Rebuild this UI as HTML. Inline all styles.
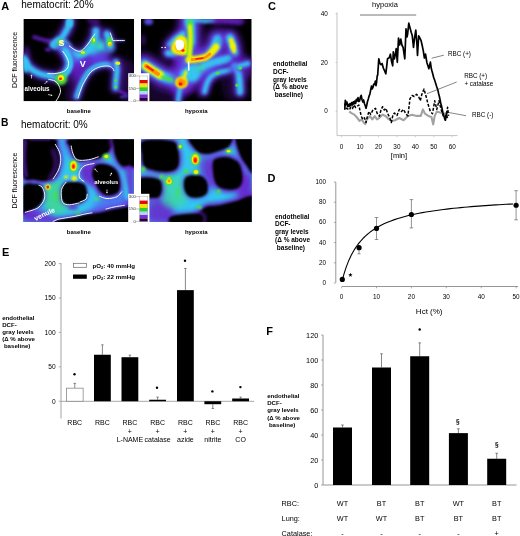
<!DOCTYPE html>
<html><head><meta charset="utf-8"><style>
html,body{margin:0;padding:0;background:#fff;width:520px;height:536px;overflow:hidden;}
svg{display:block;will-change:transform;font-family:"Liberation Sans",sans-serif;}
</style></head><body>
<svg width="520" height="536" viewBox="0 0 520 536" font-family="Liberation Sans, sans-serif"><text x="1.20" y="9.50" font-size="11" font-weight="bold" fill="#000" >A</text>
<text x="21.30" y="7.60" font-size="10" fill="#000" >hematocrit: 20%</text>
<text x="1.00" y="126.30" font-size="10.3" font-weight="bold" fill="#000" >B</text>
<text x="21.00" y="127.90" font-size="10" fill="#000" >hematocrit: 0%</text>
<text x="268.00" y="10.00" font-size="11" font-weight="bold" fill="#000" >C</text>
<text x="267.50" y="182.00" font-size="11" font-weight="bold" fill="#000" >D</text>
<text x="2.00" y="255.50" font-size="11" font-weight="bold" fill="#000" >E</text>
<text x="266.30" y="335.00" font-size="11" font-weight="bold" fill="#000" >F</text>
<text transform="translate(17.3,59.9) rotate(-90)" font-size="7" text-anchor="middle" fill="#000">DCF fluorescence</text>
<text transform="translate(17.3,180.5) rotate(-90)" font-size="7" text-anchor="middle" fill="#000">DCF fluorescence</text>
<text x="78.80" y="112.60" font-size="6" font-weight="bold" text-anchor="middle" fill="#000" >baseline</text>
<text x="196.30" y="112.60" font-size="6" font-weight="bold" text-anchor="middle" fill="#000" >hypoxia</text>
<text x="78.80" y="233.50" font-size="6" font-weight="bold" text-anchor="middle" fill="#000" >baseline</text>
<text x="196.30" y="233.50" font-size="6" font-weight="bold" text-anchor="middle" fill="#000" >hypoxia</text>
<clipPath id="clip_a1"><rect x="23.4" y="19" width="110.60" height="82.30"/></clipPath>
<g clip-path="url(#clip_a1)">
<rect x="23.40" y="19.00" width="110.60" height="82.30" fill="#000" />
<defs>
<filter id="b05" filterUnits="userSpaceOnUse" x="0" y="0" width="520" height="536"><feGaussianBlur stdDeviation="0.5"/></filter>
<filter id="b1" filterUnits="userSpaceOnUse" x="0" y="0" width="520" height="536"><feGaussianBlur stdDeviation="1"/></filter>
<filter id="b15" filterUnits="userSpaceOnUse" x="0" y="0" width="520" height="536"><feGaussianBlur stdDeviation="1.5"/></filter>
<filter id="b2" filterUnits="userSpaceOnUse" x="0" y="0" width="520" height="536"><feGaussianBlur stdDeviation="2"/></filter>
<filter id="b3" filterUnits="userSpaceOnUse" x="0" y="0" width="520" height="536"><feGaussianBlur stdDeviation="3"/></filter>
<filter id="b4" filterUnits="userSpaceOnUse" x="0" y="0" width="520" height="536"><feGaussianBlur stdDeviation="4"/></filter>
</defs><path d="M68.00,54.00 C69.67,51.67 75.33,56.67 80.00,56.00 C84.67,55.33 91.00,50.33 96.00,50.00 C101.00,49.67 107.67,52.00 110.00,54.00 C112.33,56.00 111.67,60.33 110.00,62.00 C108.33,63.67 103.67,62.67 100.00,64.00 C96.33,65.33 91.33,67.00 88.00,70.00 C84.67,73.00 82.67,79.67 80.00,82.00 C77.33,84.33 73.67,86.00 72.00,84.00 C70.33,82.00 70.67,75.00 70.00,70.00 C69.33,65.00 66.33,56.33 68.00,54.00Z" fill="#6a22cc" filter="url(#b3)" opacity="0.9"/>
<path d="M118.00,60.00 C119.33,54.67 125.33,59.00 128.00,60.00 C130.67,61.00 133.00,59.17 134.00,66.00 C135.00,72.83 136.00,95.17 134.00,101.00 C132.00,106.83 124.33,102.50 122.00,101.00 C119.67,99.50 120.67,98.83 120.00,92.00 C119.33,85.17 116.67,65.33 118.00,60.00Z" fill="#2e0a5c" filter="url(#b3)" opacity="0.7"/>
<path d="M70.00,76.00 C72.00,75.00 76.67,77.83 78.00,82.00 C79.33,86.17 80.00,97.83 78.00,101.00 C76.00,104.17 68.00,103.17 66.00,101.00 C64.00,98.83 65.33,92.17 66.00,88.00 C66.67,83.83 68.00,77.00 70.00,76.00Z" fill="#2e0a5c" filter="url(#b3)" opacity="0.6"/>
<path d="M34.00,37.00 C35.67,37.50 40.67,39.17 44.00,40.00 C47.33,40.83 52.33,41.67 54.00,42.00" fill="none" stroke="#6a22cc" stroke-width="3.5" stroke-linecap="round" stroke-linejoin="round" filter="url(#b15)" opacity="0.9"/>
<ellipse cx="47.8" cy="49.7" rx="3" ry="1.6" fill="#6a22cc" filter="url(#b1)" opacity="0.8"/>
<path d="M26.00,48.00 C26.33,49.00 27.67,53.00 28.00,54.00" fill="none" stroke="#6a22cc" stroke-width="4" stroke-linecap="round" stroke-linejoin="round" filter="url(#b2)" opacity="0.6"/>
<path d="M89.00,20.00 C90.00,20.33 93.50,21.83 95.00,22.00 C96.50,22.17 97.50,21.17 98.00,21.00" fill="none" stroke="#6a22cc" stroke-width="4" stroke-linecap="round" stroke-linejoin="round" filter="url(#b2)" opacity="0.7"/>
<path d="M119.00,91.00 C120.17,91.50 124.83,93.50 126.00,94.00" fill="none" stroke="#6a22cc" stroke-width="2.5" stroke-linecap="round" stroke-linejoin="round" filter="url(#b1)" opacity="0.9"/>
<path d="M121.00,97.00 C122.00,96.83 126.00,96.17 127.00,96.00" fill="none" stroke="#5c50f0" stroke-width="2" stroke-linecap="round" stroke-linejoin="round" filter="url(#b1)" opacity="0.8"/>
<path d="M88.00,54.00 C89.33,51.67 96.67,50.00 100.00,50.00 C103.33,50.00 107.33,52.00 108.00,54.00 C108.67,56.00 106.67,60.33 104.00,62.00 C101.33,63.67 94.67,65.33 92.00,64.00 C89.33,62.67 86.67,56.33 88.00,54.00Z" fill="#5c50f0" filter="url(#b3)" opacity="0.8"/>
<path d="M72.00,54.00 C74.00,53.17 81.67,55.67 84.00,57.00 C86.33,58.33 87.00,60.50 86.00,62.00 C85.00,63.50 80.33,66.00 78.00,66.00 C75.67,66.00 73.00,64.00 72.00,62.00 C71.00,60.00 70.00,54.83 72.00,54.00Z" fill="#5c50f0" filter="url(#b3)" opacity="0.7"/>
<path d="M70.00,19.00 C69.83,20.00 69.83,22.67 69.00,25.00 C68.17,27.33 66.50,30.50 65.00,33.00 C63.50,35.50 61.83,38.00 60.00,40.00 C58.17,42.00 55.00,44.17 54.00,45.00" fill="none" stroke="#6a22cc" stroke-width="13.440000000000001" stroke-linecap="round" stroke-linejoin="round" filter="url(#b3)" opacity="0.45"/>
<path d="M70.00,19.00 C69.83,20.00 69.83,22.67 69.00,25.00 C68.17,27.33 66.50,30.50 65.00,33.00 C63.50,35.50 61.83,38.00 60.00,40.00 C58.17,42.00 55.00,44.17 54.00,45.00" fill="none" stroke="#5c50f0" stroke-width="8.4" stroke-linecap="round" stroke-linejoin="round" filter="url(#b2)" opacity="0.85"/>
<path d="M70.00,19.00 C69.83,20.00 69.83,22.67 69.00,25.00 C68.17,27.33 66.50,30.50 65.00,33.00 C63.50,35.50 61.83,38.00 60.00,40.00 C58.17,42.00 55.00,44.17 54.00,45.00" fill="none" stroke="#34c4f0" stroke-width="5.25" stroke-linecap="round" stroke-linejoin="round" filter="url(#b15)"/>
<ellipse cx="69.5" cy="23" rx="3.5" ry="4.5" fill="#34c4f0" filter="url(#b1)"/>
<path d="M50.00,45.00 C50.33,43.00 55.00,37.67 58.00,37.00 C61.00,36.33 65.67,39.17 68.00,41.00 C70.33,42.83 72.67,46.50 72.00,48.00 C71.33,49.50 66.67,49.83 64.00,50.00 C61.33,50.17 58.33,49.83 56.00,49.00 C53.67,48.17 49.67,47.00 50.00,45.00Z" fill="#34c4f0" filter="url(#b15)"/>
<path d="M64.00,47.00 C64.83,45.67 69.50,47.00 72.00,48.00 C74.50,49.00 77.67,51.00 79.00,53.00 C80.33,55.00 81.17,58.67 80.00,60.00 C78.83,61.33 74.17,61.67 72.00,61.00 C69.83,60.33 68.33,58.33 67.00,56.00 C65.67,53.67 63.17,48.33 64.00,47.00Z" fill="#34c4f0" filter="url(#b15)"/>
<path d="M64.00,49.00 C65.00,49.58 67.67,51.50 70.00,52.50 C72.33,53.50 75.50,54.92 78.00,55.00 C80.50,55.08 82.83,54.50 85.00,53.00 C87.17,51.50 89.25,48.67 91.00,46.00 C92.75,43.33 94.67,39.50 95.50,37.00 C96.33,34.50 95.92,32.00 96.00,31.00" fill="none" stroke="#6a22cc" stroke-width="16.0" stroke-linecap="round" stroke-linejoin="round" filter="url(#b3)" opacity="0.405"/>
<path d="M64.00,49.00 C65.00,49.58 67.67,51.50 70.00,52.50 C72.33,53.50 75.50,54.92 78.00,55.00 C80.50,55.08 82.83,54.50 85.00,53.00 C87.17,51.50 89.25,48.67 91.00,46.00 C92.75,43.33 94.67,39.50 95.50,37.00 C96.33,34.50 95.92,32.00 96.00,31.00" fill="none" stroke="#5c50f0" stroke-width="10.0" stroke-linecap="round" stroke-linejoin="round" filter="url(#b2)" opacity="0.85"/>
<path d="M64.00,49.00 C65.00,49.58 67.67,51.50 70.00,52.50 C72.33,53.50 75.50,54.92 78.00,55.00 C80.50,55.08 82.83,54.50 85.00,53.00 C87.17,51.50 89.25,48.67 91.00,46.00 C92.75,43.33 94.67,39.50 95.50,37.00 C96.33,34.50 95.92,32.00 96.00,31.00" fill="none" stroke="#34c4f0" stroke-width="6.25" stroke-linecap="round" stroke-linejoin="round" filter="url(#b15)"/>
<path d="M86.00,50.00 C86.33,47.50 91.83,42.00 94.00,40.00 C96.17,38.00 96.67,38.00 99.00,38.00 C101.33,38.00 105.50,38.67 108.00,40.00 C110.50,41.33 113.33,44.00 114.00,46.00 C114.67,48.00 114.33,51.00 112.00,52.00 C109.67,53.00 103.33,51.50 100.00,52.00 C96.67,52.50 94.33,55.33 92.00,55.00 C89.67,54.67 85.67,52.50 86.00,50.00Z" fill="#34c4f0" filter="url(#b2)" opacity="0.9"/>
<path d="M24.00,58.00 C24.67,59.33 26.33,63.83 28.00,66.00 C29.67,68.17 31.67,69.58 34.00,71.00 C36.33,72.42 39.33,73.67 42.00,74.50 C44.67,75.33 47.33,75.50 50.00,76.00 C52.67,76.50 56.67,77.25 58.00,77.50" fill="none" stroke="#6a22cc" stroke-width="13.76" stroke-linecap="round" stroke-linejoin="round" filter="url(#b3)" opacity="0.36000000000000004"/>
<path d="M24.00,58.00 C24.67,59.33 26.33,63.83 28.00,66.00 C29.67,68.17 31.67,69.58 34.00,71.00 C36.33,72.42 39.33,73.67 42.00,74.50 C44.67,75.33 47.33,75.50 50.00,76.00 C52.67,76.50 56.67,77.25 58.00,77.50" fill="none" stroke="#5c50f0" stroke-width="8.6" stroke-linecap="round" stroke-linejoin="round" filter="url(#b2)" opacity="0.85"/>
<path d="M24.00,58.00 C24.67,59.33 26.33,63.83 28.00,66.00 C29.67,68.17 31.67,69.58 34.00,71.00 C36.33,72.42 39.33,73.67 42.00,74.50 C44.67,75.33 47.33,75.50 50.00,76.00 C52.67,76.50 56.67,77.25 58.00,77.50" fill="none" stroke="#34c4f0" stroke-width="5.375" stroke-linecap="round" stroke-linejoin="round" filter="url(#b15)"/>
<ellipse cx="26" cy="66" rx="3" ry="7" fill="#34c4f0" filter="url(#b15)"/>
<path d="M65.00,50.00 C65.50,51.33 67.33,55.67 68.00,58.00 C68.67,60.33 69.17,62.00 69.00,64.00 C68.83,66.00 68.17,68.00 67.00,70.00 C65.83,72.00 62.83,75.00 62.00,76.00" fill="none" stroke="#6a22cc" stroke-width="14.4" stroke-linecap="round" stroke-linejoin="round" filter="url(#b3)" opacity="0.36000000000000004"/>
<path d="M65.00,50.00 C65.50,51.33 67.33,55.67 68.00,58.00 C68.67,60.33 69.17,62.00 69.00,64.00 C68.83,66.00 68.17,68.00 67.00,70.00 C65.83,72.00 62.83,75.00 62.00,76.00" fill="none" stroke="#5c50f0" stroke-width="9.0" stroke-linecap="round" stroke-linejoin="round" filter="url(#b2)" opacity="0.85"/>
<path d="M65.00,50.00 C65.50,51.33 67.33,55.67 68.00,58.00 C68.67,60.33 69.17,62.00 69.00,64.00 C68.83,66.00 68.17,68.00 67.00,70.00 C65.83,72.00 62.83,75.00 62.00,76.00" fill="none" stroke="#34c4f0" stroke-width="5.625" stroke-linecap="round" stroke-linejoin="round" filter="url(#b15)"/>
<path d="M67.00,52.00 C67.50,53.00 69.33,56.00 70.00,58.00 C70.67,60.00 71.17,62.00 71.00,64.00 C70.83,66.00 70.00,68.17 69.00,70.00 C68.00,71.83 65.67,74.17 65.00,75.00" fill="none" stroke="#34c4f0" stroke-width="4" stroke-linecap="round" stroke-linejoin="round" filter="url(#b1)"/>
<path d="M76.50,97.00 C77.00,95.50 78.42,90.83 79.50,88.00 C80.58,85.17 81.42,82.83 83.00,80.00 C84.58,77.17 86.58,73.42 89.00,71.00 C91.42,68.58 94.58,66.67 97.50,65.50 C100.42,64.33 104.08,64.00 106.50,64.00 C108.92,64.00 111.08,65.25 112.00,65.50" fill="none" stroke="#6a22cc" stroke-width="10.240000000000002" stroke-linecap="round" stroke-linejoin="round" filter="url(#b3)" opacity="0.45"/>
<path d="M76.50,97.00 C77.00,95.50 78.42,90.83 79.50,88.00 C80.58,85.17 81.42,82.83 83.00,80.00 C84.58,77.17 86.58,73.42 89.00,71.00 C91.42,68.58 94.58,66.67 97.50,65.50 C100.42,64.33 104.08,64.00 106.50,64.00 C108.92,64.00 111.08,65.25 112.00,65.50" fill="none" stroke="#5c50f0" stroke-width="6.4" stroke-linecap="round" stroke-linejoin="round" filter="url(#b2)" opacity="0.85"/>
<path d="M76.50,97.00 C77.00,95.50 78.42,90.83 79.50,88.00 C80.58,85.17 81.42,82.83 83.00,80.00 C84.58,77.17 86.58,73.42 89.00,71.00 C91.42,68.58 94.58,66.67 97.50,65.50 C100.42,64.33 104.08,64.00 106.50,64.00 C108.92,64.00 111.08,65.25 112.00,65.50" fill="none" stroke="#34c4f0" stroke-width="4.0" stroke-linecap="round" stroke-linejoin="round" filter="url(#b15)"/>
<path d="M116.00,62.00 C116.17,63.33 117.00,67.00 117.00,70.00 C117.00,73.00 116.25,77.00 116.00,80.00 C115.75,83.00 115.58,86.67 115.50,88.00" fill="none" stroke="#6a22cc" stroke-width="12.16" stroke-linecap="round" stroke-linejoin="round" filter="url(#b3)" opacity="0.45"/>
<path d="M116.00,62.00 C116.17,63.33 117.00,67.00 117.00,70.00 C117.00,73.00 116.25,77.00 116.00,80.00 C115.75,83.00 115.58,86.67 115.50,88.00" fill="none" stroke="#5c50f0" stroke-width="7.6" stroke-linecap="round" stroke-linejoin="round" filter="url(#b2)" opacity="0.85"/>
<path d="M116.00,62.00 C116.17,63.33 117.00,67.00 117.00,70.00 C117.00,73.00 116.25,77.00 116.00,80.00 C115.75,83.00 115.58,86.67 115.50,88.00" fill="none" stroke="#34c4f0" stroke-width="4.75" stroke-linecap="round" stroke-linejoin="round" filter="url(#b15)"/>
<path d="M107.00,34.00 C107.33,35.00 108.50,38.00 109.00,40.00 C109.50,42.00 109.83,45.00 110.00,46.00" fill="none" stroke="#6a22cc" stroke-width="14.4" stroke-linecap="round" stroke-linejoin="round" filter="url(#b3)" opacity="0.36000000000000004"/>
<path d="M107.00,34.00 C107.33,35.00 108.50,38.00 109.00,40.00 C109.50,42.00 109.83,45.00 110.00,46.00" fill="none" stroke="#5c50f0" stroke-width="9.0" stroke-linecap="round" stroke-linejoin="round" filter="url(#b2)" opacity="0.85"/>
<path d="M107.00,34.00 C107.33,35.00 108.50,38.00 109.00,40.00 C109.50,42.00 109.83,45.00 110.00,46.00" fill="none" stroke="#34c4f0" stroke-width="5.625" stroke-linecap="round" stroke-linejoin="round" filter="url(#b15)"/>
<path d="M114.00,40.50 C115.67,40.50 122.33,40.50 124.00,40.50" fill="none" stroke="#5c50f0" stroke-width="2.5" stroke-linecap="round" stroke-linejoin="round" filter="url(#b1)" opacity="0.7"/>
<ellipse cx="60.5" cy="42.5" rx="3.5" ry="3" fill="#48e040" filter="url(#b1)"/>
<ellipse cx="61" cy="42.5" rx="2" ry="1.8" fill="#f4f000" filter="url(#b05)"/>
<ellipse cx="83" cy="52.5" rx="3" ry="2" fill="#48e040" filter="url(#b1)"/>
<ellipse cx="83" cy="52.5" rx="1.9" ry="1.3" fill="#f4f000" filter="url(#b05)"/>
<ellipse cx="93.5" cy="41" rx="2.2" ry="4.2" fill="#48e040" filter="url(#b1)"/>
<ellipse cx="94" cy="40" rx="1.1" ry="2.1" fill="#f4f000" filter="url(#b05)"/>
<ellipse cx="61" cy="79" rx="6" ry="6" fill="#48e040" filter="url(#b15)"/>
<ellipse cx="61" cy="78" rx="3" ry="3" fill="#f4f000" filter="url(#b05)"/>
<ellipse cx="60.5" cy="78.8" rx="1.5" ry="1.4" fill="#ff1800" filter="url(#b05)"/>
<ellipse cx="109.8" cy="42" rx="3" ry="4.8" fill="#48e040" filter="url(#b1)"/>
<ellipse cx="109.8" cy="44" rx="1.8" ry="2.3" fill="#f4f000" filter="url(#b05)"/>
<ellipse cx="110" cy="44.8" rx="0.9" ry="0.9" fill="#ff9000" filter="url(#b05)"/>
<ellipse cx="117.8" cy="63.2" rx="2.6" ry="1.8" fill="#f4f000" filter="url(#b05)"/>
<ellipse cx="115.7" cy="80.5" rx="1.5" ry="1.5" fill="#48e040" filter="url(#b05)"/>
<ellipse cx="115.7" cy="87" rx="1.5" ry="1.5" fill="#48e040" filter="url(#b05)"/>
<ellipse cx="100" cy="46" rx="4" ry="3" fill="#3cd8b0" filter="url(#b15)" opacity="0.8"/>
<path d="M69.30,46.00 C70.25,46.67 73.38,49.12 75.00,50.00 C76.62,50.88 77.78,51.27 79.00,51.30 C80.22,51.33 80.80,51.42 82.30,50.20 C83.80,48.98 85.93,46.70 88.00,44.00 C90.07,41.30 93.58,35.67 94.70,34.00" fill="none" stroke="#fff" stroke-width="1" stroke-linecap="round" opacity="0.95"/>
<path d="M62.80,51.30 C63.33,52.08 65.05,54.22 66.00,56.00 C66.95,57.78 68.25,60.00 68.50,62.00 C68.75,64.00 68.33,66.42 67.50,68.00 C66.67,69.58 65.58,70.57 63.50,71.50 C61.42,72.43 57.62,73.25 55.00,73.60 C52.38,73.95 49.00,73.60 47.80,73.60" fill="none" stroke="#fff" stroke-width="1" stroke-linecap="round" opacity="0.95"/>
<path d="M48.80,79.40 C49.83,79.67 53.38,80.10 55.00,81.00 C56.62,81.90 57.58,83.13 58.50,84.80 C59.42,86.47 60.50,88.97 60.50,91.00 C60.50,93.03 59.37,95.17 58.50,97.00 C57.63,98.83 55.83,101.17 55.30,102.00" fill="none" stroke="#fff" stroke-width="1" stroke-linecap="round" opacity="0.95"/>
<path d="M78.00,98.00 C78.50,96.50 79.92,91.75 81.00,89.00 C82.08,86.25 82.83,84.37 84.50,81.50 C86.17,78.63 88.50,74.22 91.00,71.80 C93.50,69.38 96.63,67.97 99.50,67.00 C102.37,66.03 106.03,65.83 108.20,66.00 C110.37,66.17 111.53,67.20 112.50,68.00 C113.47,68.80 113.75,70.33 114.00,70.80" fill="none" stroke="#fff" stroke-width="1" stroke-linecap="round" opacity="0.95"/>
<path d="M110.30,33.00 C110.58,33.83 111.55,36.75 112.00,38.00 C112.45,39.25 112.00,40.08 113.00,40.50 C114.00,40.92 116.12,40.50 118.00,40.50 C119.88,40.50 123.25,40.50 124.30,40.50" fill="none" stroke="#fff" stroke-width="1" stroke-linecap="round" opacity="0.95"/>
<text x="61.5" y="45.9" font-size="8.8" font-weight="bold" fill="#fff" text-anchor="middle">S</text>
<text x="82.7" y="67.1" font-size="9" font-weight="bold" fill="#fff" text-anchor="middle">V</text>
<text x="37" y="91.4" font-size="6.3" font-weight="bold" fill="#fff" text-anchor="middle">alveolus</text>
<line x1="31.5" y1="78.5" x2="31.50" y2="76.10" stroke="#fff" stroke-width="0.7"/><path d="M31.5,74.5 L32.50,76.10 L30.50,76.10Z" fill="#fff"/>
<line x1="44.5" y1="84" x2="46.37" y2="82.13" stroke="#fff" stroke-width="0.7"/><path d="M47.5,81 L47.08,82.84 L45.66,81.42Z" fill="#fff"/>
<line x1="48" y1="94.5" x2="50.94" y2="95.15" stroke="#fff" stroke-width="0.7"/><path d="M52.5,95.5 L50.72,96.13 L51.16,94.18Z" fill="#fff"/>
</g>
<clipPath id="clip_a2"><rect x="141" y="19" width="110.70" height="82.30"/></clipPath>
<g clip-path="url(#clip_a2)">
<rect x="141.00" y="19.00" width="110.70" height="82.30" fill="#000" />
<defs>
<filter id="b05" filterUnits="userSpaceOnUse" x="0" y="0" width="520" height="536"><feGaussianBlur stdDeviation="0.5"/></filter>
<filter id="b1" filterUnits="userSpaceOnUse" x="0" y="0" width="520" height="536"><feGaussianBlur stdDeviation="1"/></filter>
<filter id="b15" filterUnits="userSpaceOnUse" x="0" y="0" width="520" height="536"><feGaussianBlur stdDeviation="1.5"/></filter>
<filter id="b2" filterUnits="userSpaceOnUse" x="0" y="0" width="520" height="536"><feGaussianBlur stdDeviation="2"/></filter>
<filter id="b3" filterUnits="userSpaceOnUse" x="0" y="0" width="520" height="536"><feGaussianBlur stdDeviation="3"/></filter>
<filter id="b4" filterUnits="userSpaceOnUse" x="0" y="0" width="520" height="536"><feGaussianBlur stdDeviation="4"/></filter>
</defs><ellipse cx="148.5" cy="21.5" rx="4.5" ry="3.5" fill="#5c50f0" filter="url(#b15)" opacity="0.95"/>
<ellipse cx="143" cy="40" rx="2" ry="6" fill="#6a22cc" filter="url(#b2)" opacity="0.6"/>
<path d="M150.00,86.00 C154.33,83.67 171.33,85.33 176.00,88.00 C180.67,90.67 182.33,99.67 178.00,102.00 C173.67,104.33 154.67,104.67 150.00,102.00 C145.33,99.33 145.67,88.33 150.00,86.00Z" fill="#2e0a5c" filter="url(#b3)" opacity="0.5"/>
<path d="M198.00,28.00 C200.00,25.00 209.33,25.33 212.00,28.00 C214.67,30.67 216.00,41.00 214.00,44.00 C212.00,47.00 202.67,48.67 200.00,46.00 C197.33,43.33 196.00,31.00 198.00,28.00Z" fill="#000" filter="url(#b3)" opacity="0.9"/>
<path d="M192.00,18.00 C199.67,17.17 232.00,17.17 240.00,18.00 C248.00,18.83 247.67,22.17 240.00,23.00 C232.33,23.83 202.00,23.83 194.00,23.00 C186.00,22.17 184.33,18.83 192.00,18.00Z" fill="#6a22cc" filter="url(#b2)" opacity="0.7"/>
<path d="M236.00,55.00 C237.33,52.00 249.33,56.67 252.00,60.00 C254.67,63.33 253.33,72.00 252.00,75.00 C250.67,78.00 246.67,81.33 244.00,78.00 C241.33,74.67 234.67,58.00 236.00,55.00Z" fill="#6a22cc" filter="url(#b3)" opacity="0.6"/>
<path d="M200.00,75.00 C202.33,71.33 211.00,71.50 212.00,74.00 C213.00,76.50 208.33,86.33 206.00,90.00 C203.67,93.67 199.00,98.50 198.00,96.00 C197.00,93.50 197.67,78.67 200.00,75.00Z" fill="#6a22cc" filter="url(#b3)" opacity="0.8"/>
<path d="M220.00,74.00 C221.00,69.33 229.33,68.33 232.00,72.00 C234.67,75.67 237.00,91.33 236.00,96.00 C235.00,100.67 228.67,103.67 226.00,100.00 C223.33,96.33 219.00,78.67 220.00,74.00Z" fill="#2e0a5c" filter="url(#b3)" opacity="0.5"/>
<path d="M189.50,18.00 C189.58,20.00 189.92,25.50 190.00,30.00 C190.08,34.50 190.17,40.50 190.00,45.00 C189.83,49.50 189.17,55.00 189.00,57.00" fill="none" stroke="#6a22cc" stroke-width="25.6" stroke-linecap="round" stroke-linejoin="round" filter="url(#b3)" opacity="0.63"/>
<path d="M189.50,18.00 C189.58,20.00 189.92,25.50 190.00,30.00 C190.08,34.50 190.17,40.50 190.00,45.00 C189.83,49.50 189.17,55.00 189.00,57.00" fill="none" stroke="#5c50f0" stroke-width="16.0" stroke-linecap="round" stroke-linejoin="round" filter="url(#b2)" opacity="0.85"/>
<path d="M189.50,18.00 C189.58,20.00 189.92,25.50 190.00,30.00 C190.08,34.50 190.17,40.50 190.00,45.00 C189.83,49.50 189.17,55.00 189.00,57.00" fill="none" stroke="#34c4f0" stroke-width="10.0" stroke-linecap="round" stroke-linejoin="round" filter="url(#b15)"/>
<path d="M170.00,45.00 C171.00,44.00 173.83,40.83 176.00,39.00 C178.17,37.17 181.83,34.83 183.00,34.00" fill="none" stroke="#6a22cc" stroke-width="14.4" stroke-linecap="round" stroke-linejoin="round" filter="url(#b3)" opacity="0.63"/>
<path d="M170.00,45.00 C171.00,44.00 173.83,40.83 176.00,39.00 C178.17,37.17 181.83,34.83 183.00,34.00" fill="none" stroke="#5c50f0" stroke-width="9.0" stroke-linecap="round" stroke-linejoin="round" filter="url(#b2)" opacity="0.85"/>
<path d="M170.00,45.00 C171.00,44.00 173.83,40.83 176.00,39.00 C178.17,37.17 181.83,34.83 183.00,34.00" fill="none" stroke="#34c4f0" stroke-width="5.625" stroke-linecap="round" stroke-linejoin="round" filter="url(#b15)"/>
<path d="M168.00,53.00 C169.50,53.17 174.00,53.67 177.00,54.00 C180.00,54.33 184.50,54.83 186.00,55.00" fill="none" stroke="#6a22cc" stroke-width="14.4" stroke-linecap="round" stroke-linejoin="round" filter="url(#b3)" opacity="0.63"/>
<path d="M168.00,53.00 C169.50,53.17 174.00,53.67 177.00,54.00 C180.00,54.33 184.50,54.83 186.00,55.00" fill="none" stroke="#5c50f0" stroke-width="9.0" stroke-linecap="round" stroke-linejoin="round" filter="url(#b2)" opacity="0.85"/>
<path d="M168.00,53.00 C169.50,53.17 174.00,53.67 177.00,54.00 C180.00,54.33 184.50,54.83 186.00,55.00" fill="none" stroke="#34c4f0" stroke-width="5.625" stroke-linecap="round" stroke-linejoin="round" filter="url(#b15)"/>
<path d="M188.00,58.00 C189.50,58.08 194.00,58.67 197.00,58.50 C200.00,58.33 203.50,58.08 206.00,57.00 C208.50,55.92 210.33,53.83 212.00,52.00 C213.67,50.17 215.00,48.00 216.00,46.00 C217.00,44.00 217.67,41.00 218.00,40.00" fill="none" stroke="#6a22cc" stroke-width="25.6" stroke-linecap="round" stroke-linejoin="round" filter="url(#b3)" opacity="0.63"/>
<path d="M188.00,58.00 C189.50,58.08 194.00,58.67 197.00,58.50 C200.00,58.33 203.50,58.08 206.00,57.00 C208.50,55.92 210.33,53.83 212.00,52.00 C213.67,50.17 215.00,48.00 216.00,46.00 C217.00,44.00 217.67,41.00 218.00,40.00" fill="none" stroke="#5c50f0" stroke-width="16.0" stroke-linecap="round" stroke-linejoin="round" filter="url(#b2)" opacity="0.85"/>
<path d="M188.00,58.00 C189.50,58.08 194.00,58.67 197.00,58.50 C200.00,58.33 203.50,58.08 206.00,57.00 C208.50,55.92 210.33,53.83 212.00,52.00 C213.67,50.17 215.00,48.00 216.00,46.00 C217.00,44.00 217.67,41.00 218.00,40.00" fill="none" stroke="#34c4f0" stroke-width="10.0" stroke-linecap="round" stroke-linejoin="round" filter="url(#b15)"/>
<path d="M230.00,38.00 C230.42,39.17 231.83,42.50 232.50,45.00 C233.17,47.50 233.75,51.67 234.00,53.00" fill="none" stroke="#6a22cc" stroke-width="19.200000000000003" stroke-linecap="round" stroke-linejoin="round" filter="url(#b3)" opacity="0.63"/>
<path d="M230.00,38.00 C230.42,39.17 231.83,42.50 232.50,45.00 C233.17,47.50 233.75,51.67 234.00,53.00" fill="none" stroke="#5c50f0" stroke-width="12.0" stroke-linecap="round" stroke-linejoin="round" filter="url(#b2)" opacity="0.85"/>
<path d="M230.00,38.00 C230.42,39.17 231.83,42.50 232.50,45.00 C233.17,47.50 233.75,51.67 234.00,53.00" fill="none" stroke="#34c4f0" stroke-width="7.5" stroke-linecap="round" stroke-linejoin="round" filter="url(#b15)"/>
<path d="M194.00,20.00 C196.00,20.17 202.67,21.00 206.00,21.00 C209.33,21.00 212.67,20.17 214.00,20.00" fill="none" stroke="#34c4f0" stroke-width="4" stroke-linecap="round" stroke-linejoin="round" filter="url(#b15)" opacity="0.9"/>
<path d="M214.00,20.00 C216.00,20.00 221.67,19.67 226.00,20.00 C230.33,20.33 237.67,21.67 240.00,22.00" fill="none" stroke="#6a22cc" stroke-width="5" stroke-linecap="round" stroke-linejoin="round" filter="url(#b2)" opacity="0.9"/>
<path d="M189.00,62.00 C188.50,63.67 187.17,68.67 186.00,72.00 C184.83,75.33 182.67,80.33 182.00,82.00" fill="none" stroke="#6a22cc" stroke-width="27.200000000000003" stroke-linecap="round" stroke-linejoin="round" filter="url(#b3)" opacity="0.63"/>
<path d="M189.00,62.00 C188.50,63.67 187.17,68.67 186.00,72.00 C184.83,75.33 182.67,80.33 182.00,82.00" fill="none" stroke="#5c50f0" stroke-width="17.0" stroke-linecap="round" stroke-linejoin="round" filter="url(#b2)" opacity="0.85"/>
<path d="M189.00,62.00 C188.50,63.67 187.17,68.67 186.00,72.00 C184.83,75.33 182.67,80.33 182.00,82.00" fill="none" stroke="#34c4f0" stroke-width="10.625" stroke-linecap="round" stroke-linejoin="round" filter="url(#b15)"/>
<path d="M182.00,82.00 C180.33,81.50 175.33,80.00 172.00,79.00 C168.67,78.00 165.33,77.50 162.00,76.00 C158.67,74.50 155.00,71.83 152.00,70.00 C149.00,68.17 145.33,65.83 144.00,65.00" fill="none" stroke="#6a22cc" stroke-width="25.6" stroke-linecap="round" stroke-linejoin="round" filter="url(#b3)" opacity="0.63"/>
<path d="M182.00,82.00 C180.33,81.50 175.33,80.00 172.00,79.00 C168.67,78.00 165.33,77.50 162.00,76.00 C158.67,74.50 155.00,71.83 152.00,70.00 C149.00,68.17 145.33,65.83 144.00,65.00" fill="none" stroke="#5c50f0" stroke-width="16.0" stroke-linecap="round" stroke-linejoin="round" filter="url(#b2)" opacity="0.85"/>
<path d="M182.00,82.00 C180.33,81.50 175.33,80.00 172.00,79.00 C168.67,78.00 165.33,77.50 162.00,76.00 C158.67,74.50 155.00,71.83 152.00,70.00 C149.00,68.17 145.33,65.83 144.00,65.00" fill="none" stroke="#34c4f0" stroke-width="10.0" stroke-linecap="round" stroke-linejoin="round" filter="url(#b15)"/>
<path d="M186.00,75.00 C187.67,74.17 192.67,71.58 196.00,70.00 C199.33,68.42 204.33,66.25 206.00,65.50" fill="none" stroke="#6a22cc" stroke-width="32.0" stroke-linecap="round" stroke-linejoin="round" filter="url(#b3)" opacity="0.54"/>
<path d="M186.00,75.00 C187.67,74.17 192.67,71.58 196.00,70.00 C199.33,68.42 204.33,66.25 206.00,65.50" fill="none" stroke="#5c50f0" stroke-width="20.0" stroke-linecap="round" stroke-linejoin="round" filter="url(#b2)" opacity="0.85"/>
<path d="M186.00,75.00 C187.67,74.17 192.67,71.58 196.00,70.00 C199.33,68.42 204.33,66.25 206.00,65.50" fill="none" stroke="#34c4f0" stroke-width="12.5" stroke-linecap="round" stroke-linejoin="round" filter="url(#b15)"/>
<path d="M204.00,66.00 C206.00,65.33 212.00,63.17 216.00,62.00 C220.00,60.83 226.00,59.50 228.00,59.00" fill="none" stroke="#6a22cc" stroke-width="19.200000000000003" stroke-linecap="round" stroke-linejoin="round" filter="url(#b3)" opacity="0.45"/>
<path d="M204.00,66.00 C206.00,65.33 212.00,63.17 216.00,62.00 C220.00,60.83 226.00,59.50 228.00,59.00" fill="none" stroke="#5c50f0" stroke-width="12.0" stroke-linecap="round" stroke-linejoin="round" filter="url(#b2)" opacity="0.85"/>
<path d="M204.00,66.00 C206.00,65.33 212.00,63.17 216.00,62.00 C220.00,60.83 226.00,59.50 228.00,59.00" fill="none" stroke="#34c4f0" stroke-width="7.5" stroke-linecap="round" stroke-linejoin="round" filter="url(#b15)"/>
<ellipse cx="193" cy="74" rx="7" ry="8" fill="#34c4f0" filter="url(#b2)"/>
<path d="M204.50,92.00 C204.92,90.50 205.92,85.58 207.00,83.00 C208.08,80.42 209.08,78.25 211.00,76.50 C212.92,74.75 215.50,73.58 218.50,72.50 C221.50,71.42 226.42,70.83 229.00,70.00 C231.58,69.17 233.17,67.92 234.00,67.50" fill="none" stroke="#6a22cc" stroke-width="11.200000000000001" stroke-linecap="round" stroke-linejoin="round" filter="url(#b3)" opacity="0.45"/>
<path d="M204.50,92.00 C204.92,90.50 205.92,85.58 207.00,83.00 C208.08,80.42 209.08,78.25 211.00,76.50 C212.92,74.75 215.50,73.58 218.50,72.50 C221.50,71.42 226.42,70.83 229.00,70.00 C231.58,69.17 233.17,67.92 234.00,67.50" fill="none" stroke="#5c50f0" stroke-width="7.0" stroke-linecap="round" stroke-linejoin="round" filter="url(#b2)" opacity="0.85"/>
<path d="M204.50,92.00 C204.92,90.50 205.92,85.58 207.00,83.00 C208.08,80.42 209.08,78.25 211.00,76.50 C212.92,74.75 215.50,73.58 218.50,72.50 C221.50,71.42 226.42,70.83 229.00,70.00 C231.58,69.17 233.17,67.92 234.00,67.50" fill="none" stroke="#34c4f0" stroke-width="4.375" stroke-linecap="round" stroke-linejoin="round" filter="url(#b15)"/>
<path d="M235.00,66.00 C235.58,67.17 237.75,70.33 238.50,73.00 C239.25,75.67 239.25,78.83 239.50,82.00 C239.75,85.17 239.92,90.33 240.00,92.00" fill="none" stroke="#6a22cc" stroke-width="14.4" stroke-linecap="round" stroke-linejoin="round" filter="url(#b3)" opacity="0.54"/>
<path d="M235.00,66.00 C235.58,67.17 237.75,70.33 238.50,73.00 C239.25,75.67 239.25,78.83 239.50,82.00 C239.75,85.17 239.92,90.33 240.00,92.00" fill="none" stroke="#5c50f0" stroke-width="9.0" stroke-linecap="round" stroke-linejoin="round" filter="url(#b2)" opacity="0.85"/>
<path d="M235.00,66.00 C235.58,67.17 237.75,70.33 238.50,73.00 C239.25,75.67 239.25,78.83 239.50,82.00 C239.75,85.17 239.92,90.33 240.00,92.00" fill="none" stroke="#34c4f0" stroke-width="5.625" stroke-linecap="round" stroke-linejoin="round" filter="url(#b15)"/>
<path d="M238.00,66.50 C239.67,66.00 246.33,64.00 248.00,63.50" fill="none" stroke="#6a22cc" stroke-width="11.200000000000001" stroke-linecap="round" stroke-linejoin="round" filter="url(#b3)" opacity="0.45"/>
<path d="M238.00,66.50 C239.67,66.00 246.33,64.00 248.00,63.50" fill="none" stroke="#5c50f0" stroke-width="7.0" stroke-linecap="round" stroke-linejoin="round" filter="url(#b2)" opacity="0.85"/>
<path d="M238.00,66.50 C239.67,66.00 246.33,64.00 248.00,63.50" fill="none" stroke="#34c4f0" stroke-width="4.375" stroke-linecap="round" stroke-linejoin="round" filter="url(#b15)"/>
<path d="M180.00,88.00 C179.83,89.00 179.33,91.67 179.00,94.00 C178.67,96.33 178.17,100.67 178.00,102.00" fill="none" stroke="#6a22cc" stroke-width="9.600000000000001" stroke-linecap="round" stroke-linejoin="round" filter="url(#b3)" opacity="0.45"/>
<path d="M180.00,88.00 C179.83,89.00 179.33,91.67 179.00,94.00 C178.67,96.33 178.17,100.67 178.00,102.00" fill="none" stroke="#5c50f0" stroke-width="6.0" stroke-linecap="round" stroke-linejoin="round" filter="url(#b2)" opacity="0.85"/>
<path d="M180.00,88.00 C179.83,89.00 179.33,91.67 179.00,94.00 C178.67,96.33 178.17,100.67 178.00,102.00" fill="none" stroke="#34c4f0" stroke-width="3.75" stroke-linecap="round" stroke-linejoin="round" filter="url(#b15)"/>
<path d="M171.00,47.00 C171.67,44.00 176.33,37.33 179.00,36.00 C181.67,34.67 185.50,36.00 187.00,39.00 C188.50,42.00 190.00,51.50 188.00,54.00 C186.00,56.50 177.83,55.17 175.00,54.00 C172.17,52.83 170.33,50.00 171.00,47.00Z" fill="#f4f000" filter="url(#b1)"/>
<ellipse cx="180" cy="47" rx="4.5" ry="4.5" fill="#ff9000" filter="url(#b1)"/>
<path d="M175.50,42.00 C175.83,40.33 177.75,39.67 179.00,39.50 C180.25,39.33 182.17,39.92 183.00,41.00 C183.83,42.08 184.25,44.50 184.00,46.00 C183.75,47.50 182.67,49.42 181.50,50.00 C180.33,50.58 178.00,50.83 177.00,49.50 C176.00,48.17 175.17,43.67 175.50,42.00Z" fill="#ffffff" filter="url(#b05)"/>
<ellipse cx="183" cy="50.5" rx="1.6" ry="1.3" fill="#ff1800" filter="url(#b05)"/>
<ellipse cx="162" cy="47.5" rx="0.8" ry="0.8" fill="#ffffff" filter="url(#b05)"/>
<ellipse cx="165.2" cy="47.5" rx="0.8" ry="0.8" fill="#ffffff" filter="url(#b05)"/>
<path d="M190.00,22.00 C190.08,25.00 190.58,34.33 190.50,40.00 C190.42,45.67 189.67,53.33 189.50,56.00" fill="none" stroke="#48e040" stroke-width="5.5" stroke-linecap="round" stroke-linejoin="round" filter="url(#b1)"/>
<path d="M190.00,26.00 C190.08,28.33 190.58,35.00 190.50,40.00 C190.42,45.00 189.67,53.33 189.50,56.00" fill="none" stroke="#f4f000" stroke-width="3.5" stroke-linecap="round" stroke-linejoin="round" filter="url(#b1)"/>
<path d="M189.00,60.00 C190.33,59.83 194.17,59.50 197.00,59.00 C199.83,58.50 203.50,58.17 206.00,57.00 C208.50,55.83 210.33,53.67 212.00,52.00 C213.67,50.33 215.33,47.83 216.00,47.00" fill="none" stroke="#f4f000" stroke-width="7" stroke-linecap="round" stroke-linejoin="round" filter="url(#b1)"/>
<path d="M192.00,59.50 C194.00,59.25 201.00,58.92 204.00,58.00 C207.00,57.08 209.00,54.67 210.00,54.00" fill="none" stroke="#ff9000" stroke-width="2.8" stroke-linecap="round" stroke-linejoin="round" filter="url(#b05)"/>
<path d="M196.00,59.00 C197.17,58.83 201.83,58.17 203.00,58.00" fill="none" stroke="#ff1800" stroke-width="1.6" stroke-linecap="round" stroke-linejoin="round" filter="url(#b05)"/>
<path d="M231.00,40.00 C231.33,41.00 232.50,44.17 233.00,46.00 C233.50,47.83 233.83,50.17 234.00,51.00" fill="none" stroke="#f4f000" stroke-width="4.5" stroke-linecap="round" stroke-linejoin="round" filter="url(#b1)"/>
<path d="M146.00,66.00 C147.00,66.67 149.67,68.50 152.00,70.00 C154.33,71.50 158.67,74.17 160.00,75.00" fill="none" stroke="#f4f000" stroke-width="8" stroke-linecap="round" stroke-linejoin="round" filter="url(#b1)"/>
<path d="M146.00,66.00 C147.00,66.67 150.00,68.67 152.00,70.00 C154.00,71.33 157.00,73.33 158.00,74.00" fill="none" stroke="#ff9000" stroke-width="4" stroke-linecap="round" stroke-linejoin="round" filter="url(#b05)"/>
<path d="M147.00,66.50 C148.00,67.17 152.00,69.83 153.00,70.50" fill="none" stroke="#ff1800" stroke-width="2" stroke-linecap="round" stroke-linejoin="round" filter="url(#b05)"/>
<path d="M162.00,77.00 C163.67,77.50 170.33,79.50 172.00,80.00" fill="none" stroke="#48e040" stroke-width="3" stroke-linecap="round" stroke-linejoin="round" filter="url(#b1)"/>
<ellipse cx="181.5" cy="82.5" rx="6.5" ry="6" fill="#f4f000" filter="url(#b1)"/>
<ellipse cx="181.5" cy="82.5" rx="4.5" ry="4.5" fill="#ff9000" filter="url(#b1)"/>
<ellipse cx="180.5" cy="84" rx="2" ry="1.8" fill="#ff1800" filter="url(#b05)"/>
<path d="M186.00,72.00 C185.67,73.00 184.33,77.00 184.00,78.00" fill="none" stroke="#f4f000" stroke-width="3" stroke-linecap="round" stroke-linejoin="round" filter="url(#b1)"/>
<path d="M188.60,62.00 C188.63,63.33 188.77,68.67 188.80,70.00" fill="none" stroke="#ffffff" stroke-width="1.6" stroke-linecap="round" stroke-linejoin="round" filter="url(#b05)"/>
<ellipse cx="232.6" cy="46" rx="2.5" ry="3" fill="#f4f000" filter="url(#b1)"/>
<ellipse cx="200" cy="68" rx="5" ry="3.5" fill="#3cd8b0" filter="url(#b15)" opacity="0.8"/>
<ellipse cx="217.5" cy="73.2" rx="2.2" ry="1.6" fill="#48e040" filter="url(#b05)"/>
<ellipse cx="240.2" cy="68.1" rx="2" ry="1.7" fill="#48e040" filter="url(#b05)"/>
<ellipse cx="237" cy="85.3" rx="1.7" ry="1.7" fill="#48e040" filter="url(#b05)"/>
</g>
<clipPath id="clip_b1"><rect x="23.4" y="139.2" width="110.60" height="82.80"/></clipPath>
<g clip-path="url(#clip_b1)">
<rect x="23.40" y="139.20" width="110.60" height="82.80" fill="#000" />
<defs>
<filter id="b05" filterUnits="userSpaceOnUse" x="0" y="0" width="520" height="536"><feGaussianBlur stdDeviation="0.5"/></filter>
<filter id="b1" filterUnits="userSpaceOnUse" x="0" y="0" width="520" height="536"><feGaussianBlur stdDeviation="1"/></filter>
<filter id="b15" filterUnits="userSpaceOnUse" x="0" y="0" width="520" height="536"><feGaussianBlur stdDeviation="1.5"/></filter>
<filter id="b2" filterUnits="userSpaceOnUse" x="0" y="0" width="520" height="536"><feGaussianBlur stdDeviation="2"/></filter>
<filter id="b3" filterUnits="userSpaceOnUse" x="0" y="0" width="520" height="536"><feGaussianBlur stdDeviation="3"/></filter>
<filter id="b4" filterUnits="userSpaceOnUse" x="0" y="0" width="520" height="536"><feGaussianBlur stdDeviation="4"/></filter>
</defs><rect x="23" y="139" width="111" height="83" fill="#34c4f0"/>
<path d="M100.00,200.00 C107.33,195.67 128.33,192.33 134.00,196.00 C139.67,199.67 141.33,217.67 134.00,222.00 C126.67,226.33 95.67,225.67 90.00,222.00 C84.33,218.33 92.67,204.33 100.00,200.00Z" fill="#5c50f0" filter="url(#b3)" opacity="0.7"/>
<path d="M23.00,208.00 C26.67,206.33 38.83,209.67 45.00,212.00 C51.17,214.33 63.67,220.33 60.00,222.00 C56.33,223.67 29.17,224.33 23.00,222.00 C16.83,219.67 19.33,209.67 23.00,208.00Z" fill="#6a22cc" filter="url(#b3)" opacity="0.9"/>
<path d="M126.00,166.00 C127.00,159.67 132.67,159.33 134.00,166.00 C135.33,172.67 135.00,199.67 134.00,206.00 C133.00,212.33 129.33,210.67 128.00,204.00 C126.67,197.33 125.00,172.33 126.00,166.00Z" fill="#6a22cc" filter="url(#b3)" opacity="0.9"/>
<path d="M118.00,168.00 C118.67,169.33 120.83,173.00 122.00,176.00 C123.17,179.00 124.17,182.33 125.00,186.00 C125.83,189.67 126.67,196.00 127.00,198.00" fill="none" stroke="#34c4f0" stroke-width="4" stroke-linecap="round" stroke-linejoin="round" filter="url(#b15)"/>
<path d="M124.00,167.00 C125.67,166.83 132.33,166.17 134.00,166.00" fill="none" stroke="#6a22cc" stroke-width="3" stroke-linecap="round" stroke-linejoin="round" filter="url(#b15)" opacity="0.9"/>
<path d="M44.00,186.00 C45.33,180.67 56.33,178.67 60.00,182.00 C63.67,185.33 67.33,200.67 66.00,206.00 C64.67,211.33 55.67,217.33 52.00,214.00 C48.33,210.67 42.67,191.33 44.00,186.00Z" fill="#3cd8b0" filter="url(#b2)" opacity="0.5"/>
<path d="M46.00,186.00 C49.67,182.33 61.67,180.67 66.00,184.00 C70.33,187.33 73.67,201.33 72.00,206.00 C70.33,210.67 60.67,212.00 56.00,212.00 C51.33,212.00 45.67,210.33 44.00,206.00 C42.33,201.67 42.33,189.67 46.00,186.00Z" fill="#48e040" filter="url(#b3)" opacity="0.35"/>
<ellipse cx="76" cy="210" rx="8" ry="3" fill="#3cd8b0" filter="url(#b2)" opacity="0.4"/>
<ellipse cx="64" cy="150" rx="3" ry="8" fill="#3c8cff" filter="url(#b3)" opacity="0.4"/>
<path d="M23.00,139.00 C28.17,132.83 48.33,137.83 54.00,139.00 C59.67,140.17 56.00,142.83 57.00,146.00 C58.00,149.17 59.67,154.33 60.00,158.00 C60.33,161.67 59.83,164.83 59.00,168.00 C58.17,171.17 57.33,174.83 55.00,177.00 C52.67,179.17 48.33,180.50 45.00,181.00 C41.67,181.50 38.67,180.83 35.00,180.00 C31.33,179.17 25.00,182.83 23.00,176.00 C21.00,169.17 17.83,145.17 23.00,139.00Z" fill="none" stroke="#6a22cc" stroke-width="5" filter="url(#b2)" opacity="0.95"/><path d="M23.00,139.00 C28.17,132.83 48.33,137.83 54.00,139.00 C59.67,140.17 56.00,142.83 57.00,146.00 C58.00,149.17 59.67,154.33 60.00,158.00 C60.33,161.67 59.83,164.83 59.00,168.00 C58.17,171.17 57.33,174.83 55.00,177.00 C52.67,179.17 48.33,180.50 45.00,181.00 C41.67,181.50 38.67,180.83 35.00,180.00 C31.33,179.17 25.00,182.83 23.00,176.00 C21.00,169.17 17.83,145.17 23.00,139.00Z" fill="#000" filter="url(#b1)"/>
<path d="M25.00,140.00 C24.83,143.33 23.83,154.00 24.00,160.00 C24.17,166.00 25.67,173.33 26.00,176.00" fill="none" stroke="#6a22cc" stroke-width="3" stroke-linecap="round" stroke-linejoin="round" filter="url(#b15)" opacity="0.8"/>
<path d="M53.00,150.00 C53.50,151.67 55.67,156.67 56.00,160.00 C56.33,163.33 56.00,167.00 55.00,170.00 C54.00,173.00 50.83,176.67 50.00,178.00" fill="none" stroke="#6a22cc" stroke-width="3" stroke-linecap="round" stroke-linejoin="round" filter="url(#b2)" opacity="0.8"/>
<path d="M30.00,139.50 C33.33,139.50 46.67,139.50 50.00,139.50" fill="none" stroke="#6a22cc" stroke-width="2" stroke-linecap="round" stroke-linejoin="round" filter="url(#b1)" opacity="0.7"/>
<path d="M70.00,139.00 C77.00,137.50 105.33,137.17 112.00,139.00 C118.67,140.83 112.00,146.83 110.00,150.00 C108.00,153.17 103.33,156.33 100.00,158.00 C96.67,159.67 93.33,159.50 90.00,160.00 C86.67,160.50 82.67,161.50 80.00,161.00 C77.33,160.50 75.67,159.17 74.00,157.00 C72.33,154.83 70.67,151.00 70.00,148.00 C69.33,145.00 63.00,140.50 70.00,139.00Z" fill="none" stroke="#6a22cc" stroke-width="5" filter="url(#b2)" opacity="0.95"/><path d="M70.00,139.00 C77.00,137.50 105.33,137.17 112.00,139.00 C118.67,140.83 112.00,146.83 110.00,150.00 C108.00,153.17 103.33,156.33 100.00,158.00 C96.67,159.67 93.33,159.50 90.00,160.00 C86.67,160.50 82.67,161.50 80.00,161.00 C77.33,160.50 75.67,159.17 74.00,157.00 C72.33,154.83 70.67,151.00 70.00,148.00 C69.33,145.00 63.00,140.50 70.00,139.00Z" fill="#000" filter="url(#b1)"/>
<path d="M114.50,137.00 C118.25,135.50 132.42,132.33 136.00,137.00 C139.58,141.67 137.17,160.25 136.00,165.00 C134.83,169.75 131.17,165.25 129.00,165.50 C126.83,165.75 124.75,167.00 123.00,166.50 C121.25,166.00 119.83,164.42 118.50,162.50 C117.17,160.58 115.83,157.75 115.00,155.00 C114.17,152.25 113.58,149.00 113.50,146.00 C113.42,143.00 110.75,138.50 114.50,137.00Z" fill="none" stroke="#6a22cc" stroke-width="5" filter="url(#b2)" opacity="0.95"/><path d="M114.50,137.00 C118.25,135.50 132.42,132.33 136.00,137.00 C139.58,141.67 137.17,160.25 136.00,165.00 C134.83,169.75 131.17,165.25 129.00,165.50 C126.83,165.75 124.75,167.00 123.00,166.50 C121.25,166.00 119.83,164.42 118.50,162.50 C117.17,160.58 115.83,157.75 115.00,155.00 C114.17,152.25 113.58,149.00 113.50,146.00 C113.42,143.00 110.75,138.50 114.50,137.00Z" fill="#000" filter="url(#b1)"/>
<path d="M86.00,163.00 C89.33,161.67 96.00,161.83 100.00,162.00 C104.00,162.17 107.00,162.67 110.00,164.00 C113.00,165.33 116.00,167.00 118.00,170.00 C120.00,173.00 121.33,178.67 122.00,182.00 C122.67,185.33 122.83,187.67 122.00,190.00 C121.17,192.33 119.50,194.67 117.00,196.00 C114.50,197.33 110.00,198.00 107.00,198.00 C104.00,198.00 101.17,197.67 99.00,196.00 C96.83,194.33 95.83,190.00 94.00,188.00 C92.17,186.00 90.17,185.67 88.00,184.00 C85.83,182.33 82.33,180.33 81.00,178.00 C79.67,175.67 79.17,172.50 80.00,170.00 C80.83,167.50 82.67,164.33 86.00,163.00Z" fill="#6a22cc" filter="url(#b2)" opacity="0.9"/>
<path d="M96.00,165.00 C98.67,163.50 104.50,164.00 108.00,165.00 C111.50,166.00 115.00,168.00 117.00,171.00 C119.00,174.00 119.67,179.67 120.00,183.00 C120.33,186.33 120.17,189.00 119.00,191.00 C117.83,193.00 115.33,194.33 113.00,195.00 C110.67,195.67 107.33,195.83 105.00,195.00 C102.67,194.17 100.67,192.17 99.00,190.00 C97.33,187.83 96.17,184.67 95.00,182.00 C93.83,179.33 91.83,176.83 92.00,174.00 C92.17,171.17 93.33,166.50 96.00,165.00Z" fill="#000" filter="url(#b1)"/>
<path d="M64.00,184.00 C66.17,182.00 70.67,182.00 74.00,182.00 C77.33,182.00 81.83,182.33 84.00,184.00 C86.17,185.67 86.67,189.50 87.00,192.00 C87.33,194.50 87.17,197.17 86.00,199.00 C84.83,200.83 82.67,202.00 80.00,203.00 C77.33,204.00 72.83,205.17 70.00,205.00 C67.17,204.83 64.50,203.83 63.00,202.00 C61.50,200.17 60.83,197.00 61.00,194.00 C61.17,191.00 61.83,186.00 64.00,184.00Z" fill="none" stroke="#5c50f0" stroke-width="3" filter="url(#b2)" opacity="0.95"/><path d="M64.00,184.00 C66.17,182.00 70.67,182.00 74.00,182.00 C77.33,182.00 81.83,182.33 84.00,184.00 C86.17,185.67 86.67,189.50 87.00,192.00 C87.33,194.50 87.17,197.17 86.00,199.00 C84.83,200.83 82.67,202.00 80.00,203.00 C77.33,204.00 72.83,205.17 70.00,205.00 C67.17,204.83 64.50,203.83 63.00,202.00 C61.50,200.17 60.83,197.00 61.00,194.00 C61.17,191.00 61.83,186.00 64.00,184.00Z" fill="#000" filter="url(#b1)"/>
<path d="M23.00,186.00 C25.17,181.33 32.83,183.83 36.00,184.00 C39.17,184.17 40.67,185.33 42.00,187.00 C43.33,188.67 44.00,191.50 44.00,194.00 C44.00,196.50 43.33,199.67 42.00,202.00 C40.67,204.33 38.33,206.50 36.00,208.00 C33.67,209.50 30.17,210.33 28.00,211.00 C25.83,211.67 23.83,216.17 23.00,212.00 C22.17,207.83 20.83,190.67 23.00,186.00Z" fill="none" stroke="#6a22cc" stroke-width="3" filter="url(#b2)" opacity="0.95"/><path d="M23.00,186.00 C25.17,181.33 32.83,183.83 36.00,184.00 C39.17,184.17 40.67,185.33 42.00,187.00 C43.33,188.67 44.00,191.50 44.00,194.00 C44.00,196.50 43.33,199.67 42.00,202.00 C40.67,204.33 38.33,206.50 36.00,208.00 C33.67,209.50 30.17,210.33 28.00,211.00 C25.83,211.67 23.83,216.17 23.00,212.00 C22.17,207.83 20.83,190.67 23.00,186.00Z" fill="#000" filter="url(#b1)"/>
<path d="M52.00,225.00 C52.67,224.17 54.17,222.00 56.00,221.00 C57.83,220.00 59.83,219.67 63.00,219.00 C66.17,218.33 71.17,217.75 75.00,217.00 C78.83,216.25 81.83,215.25 86.00,214.50 C90.17,213.75 95.67,213.33 100.00,212.50 C104.33,211.67 107.67,210.42 112.00,209.50 C116.33,208.58 122.00,207.75 126.00,207.00 C130.00,206.25 134.33,201.83 136.00,205.00 C137.67,208.17 150.00,222.50 136.00,226.00 C122.00,229.50 66.00,226.17 52.00,226.00 C38.00,225.83 51.33,225.83 52.00,225.00Z" fill="none" stroke="#6a22cc" stroke-width="4" filter="url(#b2)" opacity="0.95"/><path d="M52.00,225.00 C52.67,224.17 54.17,222.00 56.00,221.00 C57.83,220.00 59.83,219.67 63.00,219.00 C66.17,218.33 71.17,217.75 75.00,217.00 C78.83,216.25 81.83,215.25 86.00,214.50 C90.17,213.75 95.67,213.33 100.00,212.50 C104.33,211.67 107.67,210.42 112.00,209.50 C116.33,208.58 122.00,207.75 126.00,207.00 C130.00,206.25 134.33,201.83 136.00,205.00 C137.67,208.17 150.00,222.50 136.00,226.00 C122.00,229.50 66.00,226.17 52.00,226.00 C38.00,225.83 51.33,225.83 52.00,225.00Z" fill="#000" filter="url(#b1)"/>
<ellipse cx="73" cy="207.5" rx="5" ry="2.5" fill="#6a22cc" filter="url(#b15)" opacity="0.7"/>
<ellipse cx="73.5" cy="166" rx="4.5" ry="6.5" fill="#48e040" filter="url(#b1)"/>
<ellipse cx="73.5" cy="166" rx="3.2" ry="4.8" fill="#f4f000" filter="url(#b05)"/>
<ellipse cx="73.5" cy="166.3" rx="2" ry="3" fill="#ff9000" filter="url(#b05)"/>
<ellipse cx="73.5" cy="166.5" rx="1.2" ry="2" fill="#ff1800" filter="url(#b05)"/>
<ellipse cx="74.3" cy="178.3" rx="3" ry="2.5" fill="#f4f000" filter="url(#b1)"/>
<ellipse cx="66" cy="177" rx="2.2" ry="1.6" fill="#f4f000" filter="url(#b1)"/>
<ellipse cx="47.8" cy="187" rx="2.6" ry="2.8" fill="#f4f000" filter="url(#b1)"/>
<ellipse cx="47.8" cy="187" rx="1.3" ry="1.5" fill="#ff1800" filter="url(#b05)"/>
<ellipse cx="106.3" cy="156.4" rx="3.8" ry="3" fill="#48e040" filter="url(#b1)"/>
<ellipse cx="106.3" cy="156.4" rx="2" ry="1.6" fill="#f4f000" filter="url(#b05)"/>
<ellipse cx="96.8" cy="198.8" rx="2.4" ry="1.3" fill="#48e040" filter="url(#b1)"/>
<ellipse cx="56" cy="196" rx="3" ry="4" fill="#48e040" filter="url(#b15)" opacity="0.6"/>
<ellipse cx="78" cy="213.5" rx="2.5" ry="1.3" fill="#48e040" filter="url(#b1)" opacity="0.8"/>
<path d="M55.30,144.40 C56.00,145.67 58.60,149.32 59.50,152.00 C60.40,154.68 60.87,157.50 60.70,160.50 C60.53,163.50 59.75,166.95 58.50,170.00 C57.25,173.05 54.08,177.33 53.20,178.80" fill="none" stroke="#fff" stroke-width="1" stroke-linecap="round" opacity="0.95"/>
<path d="M71.20,146.00 C71.50,147.28 71.97,151.40 73.00,153.70 C74.03,156.00 74.82,158.78 77.40,159.80 C79.98,160.82 85.02,160.30 88.50,159.80 C91.98,159.30 96.67,157.30 98.30,156.80" fill="none" stroke="#fff" stroke-width="1" stroke-linecap="round" opacity="0.95"/>
<path d="M94.00,163.50 C92.33,163.92 86.43,164.50 84.00,166.00 C81.57,167.50 80.10,170.50 79.40,172.50 C78.70,174.50 79.03,176.50 79.80,178.00 C80.57,179.50 83.30,180.92 84.00,181.50" fill="none" stroke="#fff" stroke-width="1" stroke-linecap="round" opacity="0.95"/>
<path d="M99.50,196.20 C100.75,196.60 104.12,198.50 107.00,198.60 C109.88,198.70 114.35,197.93 116.80,196.80 C119.25,195.67 120.88,192.63 121.70,191.80" fill="none" stroke="#fff" stroke-width="1" stroke-linecap="round" opacity="0.95"/>
<path d="M25.20,212.30 C26.50,211.92 30.70,210.88 33.00,210.00 C35.30,209.12 37.17,208.67 39.00,207.00 C40.83,205.33 43.08,202.33 44.00,200.00 C44.92,197.67 44.83,195.17 44.50,193.00 C44.17,190.83 42.92,188.27 42.00,187.00 C41.08,185.73 39.50,185.67 39.00,185.40" fill="none" stroke="#fff" stroke-width="1" stroke-linecap="round" opacity="0.95"/>
<path d="M66.00,182.20 C65.33,183.17 62.80,186.03 62.00,188.00 C61.20,189.97 61.07,191.57 61.20,194.00 C61.33,196.43 61.45,200.80 62.80,202.60 C64.15,204.40 66.60,204.73 69.30,204.80 C72.00,204.87 77.38,203.30 79.00,203.00" fill="none" stroke="#fff" stroke-width="1" stroke-linecap="round" opacity="0.95"/>
<path d="M87.20,194.30 C87.00,195.12 87.20,197.92 86.00,199.20 C84.80,200.48 81.00,201.53 80.00,202.00" fill="none" stroke="#fff" stroke-width="1" stroke-linecap="round" opacity="0.95"/>
<path d="M53.00,221.50 C53.83,221.13 56.33,219.83 58.00,219.30 C59.67,218.77 60.17,218.80 63.00,218.30 C65.83,217.80 71.17,217.05 75.00,216.30 C78.83,215.55 83.17,214.38 86.00,213.80 C88.83,213.22 91.00,212.97 92.00,212.80" fill="none" stroke="#fff" stroke-width="1" stroke-linecap="round" opacity="0.95"/>
<path d="M106.00,209.00 C107.33,208.67 110.95,207.62 114.00,207.00 C117.05,206.38 122.58,205.58 124.30,205.30" fill="none" stroke="#fff" stroke-width="1" stroke-linecap="round" opacity="0.95"/>
<text x="106.3" y="183.6" font-size="6" font-weight="bold" fill="#fff" text-anchor="middle">alveolus</text>
<text x="45.5" y="216.2" font-size="7" font-weight="bold" fill="#fff" text-anchor="middle" transform="rotate(-25 45.5 216.2)">venule</text>
<line x1="97.7" y1="172.2" x2="95.55" y2="169.71" stroke="#fff" stroke-width="0.7"/><path d="M94.5,168.5 L96.30,169.06 L94.79,170.36Z" fill="#fff"/>
<line x1="110" y1="176" x2="111.21" y2="173.89" stroke="#fff" stroke-width="0.7"/><path d="M112,172.5 L112.07,174.39 L110.34,173.39Z" fill="#fff"/>
<line x1="107" y1="189.5" x2="107.00" y2="191.90" stroke="#fff" stroke-width="0.7"/><path d="M107,193.5 L106.00,191.90 L108.00,191.90Z" fill="#fff"/>
</g>
<clipPath id="clip_b2"><rect x="141" y="139.2" width="110.70" height="82.80"/></clipPath>
<g clip-path="url(#clip_b2)">
<rect x="141.00" y="139.20" width="110.70" height="82.80" fill="#000" />
<defs>
<filter id="b05" filterUnits="userSpaceOnUse" x="0" y="0" width="520" height="536"><feGaussianBlur stdDeviation="0.5"/></filter>
<filter id="b1" filterUnits="userSpaceOnUse" x="0" y="0" width="520" height="536"><feGaussianBlur stdDeviation="1"/></filter>
<filter id="b15" filterUnits="userSpaceOnUse" x="0" y="0" width="520" height="536"><feGaussianBlur stdDeviation="1.5"/></filter>
<filter id="b2" filterUnits="userSpaceOnUse" x="0" y="0" width="520" height="536"><feGaussianBlur stdDeviation="2"/></filter>
<filter id="b3" filterUnits="userSpaceOnUse" x="0" y="0" width="520" height="536"><feGaussianBlur stdDeviation="3"/></filter>
<filter id="b4" filterUnits="userSpaceOnUse" x="0" y="0" width="520" height="536"><feGaussianBlur stdDeviation="4"/></filter>
</defs><rect x="141" y="139" width="111" height="83" fill="#34c4f0"/>
<path d="M148.00,200.00 C150.33,196.00 158.00,197.00 162.00,198.00 C166.00,199.00 170.33,202.00 172.00,206.00 C173.67,210.00 176.00,219.33 172.00,222.00 C168.00,224.67 152.00,225.67 148.00,222.00 C144.00,218.33 145.67,204.00 148.00,200.00Z" fill="#6a22cc" filter="url(#b3)" opacity="0.85"/>
<ellipse cx="166" cy="196" rx="6" ry="3" fill="#5c50f0" filter="url(#b2)" opacity="0.6"/>
<path d="M150.00,150.00 C151.67,141.67 159.00,141.67 160.00,150.00 C161.00,158.33 157.67,191.67 156.00,200.00 C154.33,208.33 151.00,208.33 150.00,200.00 C149.00,191.67 148.33,158.33 150.00,150.00Z" fill="#3cd8b0" filter="url(#b3)" opacity="0.3"/>
<path d="M160.00,182.00 C163.33,177.67 179.67,176.33 184.00,180.00 C188.33,183.67 189.33,199.67 186.00,204.00 C182.67,208.33 168.33,209.67 164.00,206.00 C159.67,202.33 156.67,186.33 160.00,182.00Z" fill="#3cd8b0" filter="url(#b2)" opacity="0.5"/>
<ellipse cx="175" cy="200" rx="6" ry="5" fill="#48e040" filter="url(#b3)" opacity="0.35"/>
<path d="M236.00,176.00 C238.00,171.33 249.33,171.33 252.00,176.00 C254.67,180.67 254.00,199.33 252.00,204.00 C250.00,208.67 242.67,208.67 240.00,204.00 C237.33,199.33 234.00,180.67 236.00,176.00Z" fill="#6a22cc" filter="url(#b3)" opacity="0.9"/>
<path d="M200.00,160.00 C201.67,155.67 211.67,155.67 214.00,160.00 C216.33,164.33 215.67,181.67 214.00,186.00 C212.33,190.33 206.33,190.33 204.00,186.00 C201.67,181.67 198.33,164.33 200.00,160.00Z" fill="#6a22cc" filter="url(#b3)" opacity="0.8"/>
<path d="M160.00,176.00 C165.00,172.67 185.67,172.00 190.00,176.00 C194.33,180.00 191.00,196.67 186.00,200.00 C181.00,203.33 164.33,200.00 160.00,196.00 C155.67,192.00 155.00,179.33 160.00,176.00Z" fill="#3cd8b0" filter="url(#b2)" opacity="0.5"/>
<path d="M143.00,141.00 C148.00,138.67 166.17,139.50 172.00,141.00 C177.83,142.50 176.83,146.33 178.00,150.00 C179.17,153.67 179.50,159.67 179.00,163.00 C178.50,166.33 177.33,168.50 175.00,170.00 C172.67,171.50 168.83,172.00 165.00,172.00 C161.17,172.00 155.50,171.00 152.00,170.00 C148.50,169.00 145.67,168.50 144.00,166.00 C142.33,163.50 142.17,159.17 142.00,155.00 C141.83,150.83 138.00,143.33 143.00,141.00Z" fill="none" stroke="#6a22cc" stroke-width="5" filter="url(#b2)" opacity="0.95"/><path d="M143.00,141.00 C148.00,138.67 166.17,139.50 172.00,141.00 C177.83,142.50 176.83,146.33 178.00,150.00 C179.17,153.67 179.50,159.67 179.00,163.00 C178.50,166.33 177.33,168.50 175.00,170.00 C172.67,171.50 168.83,172.00 165.00,172.00 C161.17,172.00 155.50,171.00 152.00,170.00 C148.50,169.00 145.67,168.50 144.00,166.00 C142.33,163.50 142.17,159.17 142.00,155.00 C141.83,150.83 138.00,143.33 143.00,141.00Z" fill="#000" filter="url(#b1)"/>
<path d="M190.00,136.00 C195.50,133.50 223.50,134.33 230.00,136.00 C236.50,137.67 230.83,143.50 229.00,146.00 C227.17,148.50 222.67,149.67 219.00,151.00 C215.33,152.33 210.67,154.00 207.00,154.00 C203.33,154.00 199.83,154.00 197.00,151.00 C194.17,148.00 184.50,138.50 190.00,136.00Z" fill="none" stroke="#6a22cc" stroke-width="4" filter="url(#b2)" opacity="0.95"/><path d="M190.00,136.00 C195.50,133.50 223.50,134.33 230.00,136.00 C236.50,137.67 230.83,143.50 229.00,146.00 C227.17,148.50 222.67,149.67 219.00,151.00 C215.33,152.33 210.67,154.00 207.00,154.00 C203.33,154.00 199.83,154.00 197.00,151.00 C194.17,148.00 184.50,138.50 190.00,136.00Z" fill="#000" filter="url(#b1)"/>
<path d="M236.00,136.00 C238.33,132.83 251.00,130.00 254.00,136.00 C257.00,142.00 255.33,167.17 254.00,172.00 C252.67,176.83 248.33,167.83 246.00,165.00 C243.67,162.17 241.67,159.83 240.00,155.00 C238.33,150.17 233.67,139.17 236.00,136.00Z" fill="none" stroke="#6a22cc" stroke-width="5" filter="url(#b2)" opacity="0.95"/><path d="M236.00,136.00 C238.33,132.83 251.00,130.00 254.00,136.00 C257.00,142.00 255.33,167.17 254.00,172.00 C252.67,176.83 248.33,167.83 246.00,165.00 C243.67,162.17 241.67,159.83 240.00,155.00 C238.33,150.17 233.67,139.17 236.00,136.00Z" fill="#000" filter="url(#b1)"/>
<path d="M214.00,160.00 C216.17,157.50 222.00,156.67 226.00,157.00 C230.00,157.33 235.33,159.50 238.00,162.00 C240.67,164.50 241.33,168.50 242.00,172.00 C242.67,175.50 243.00,180.17 242.00,183.00 C241.00,185.83 239.00,188.00 236.00,189.00 C233.00,190.00 227.33,189.83 224.00,189.00 C220.67,188.17 217.83,186.83 216.00,184.00 C214.17,181.17 213.33,176.00 213.00,172.00 C212.67,168.00 211.83,162.50 214.00,160.00Z" fill="none" stroke="#6a22cc" stroke-width="6" filter="url(#b2)" opacity="0.95"/><path d="M214.00,160.00 C216.17,157.50 222.00,156.67 226.00,157.00 C230.00,157.33 235.33,159.50 238.00,162.00 C240.67,164.50 241.33,168.50 242.00,172.00 C242.67,175.50 243.00,180.17 242.00,183.00 C241.00,185.83 239.00,188.00 236.00,189.00 C233.00,190.00 227.33,189.83 224.00,189.00 C220.67,188.17 217.83,186.83 216.00,184.00 C214.17,181.17 213.33,176.00 213.00,172.00 C212.67,168.00 211.83,162.50 214.00,160.00Z" fill="#000" filter="url(#b1)"/>
<path d="M186.00,177.00 C188.67,174.92 196.50,174.67 200.00,175.50 C203.50,176.33 205.83,179.08 207.00,182.00 C208.17,184.92 208.33,190.42 207.00,193.00 C205.67,195.58 202.00,196.92 199.00,197.50 C196.00,198.08 191.50,198.08 189.00,196.50 C186.50,194.92 184.50,191.25 184.00,188.00 C183.50,184.75 183.33,179.08 186.00,177.00Z" fill="none" stroke="#5c50f0" stroke-width="3" filter="url(#b2)" opacity="0.95"/><path d="M186.00,177.00 C188.67,174.92 196.50,174.67 200.00,175.50 C203.50,176.33 205.83,179.08 207.00,182.00 C208.17,184.92 208.33,190.42 207.00,193.00 C205.67,195.58 202.00,196.92 199.00,197.50 C196.00,198.08 191.50,198.08 189.00,196.50 C186.50,194.92 184.50,191.25 184.00,188.00 C183.50,184.75 183.33,179.08 186.00,177.00Z" fill="#000" filter="url(#b1)"/>
<path d="M138.00,179.00 C141.33,175.83 154.00,177.50 158.00,179.00 C162.00,180.50 161.83,185.00 162.00,188.00 C162.17,191.00 161.00,195.33 159.00,197.00 C157.00,198.67 153.50,197.83 150.00,198.00 C146.50,198.17 140.00,201.17 138.00,198.00 C136.00,194.83 134.67,182.17 138.00,179.00Z" fill="none" stroke="#6a22cc" stroke-width="4" filter="url(#b2)" opacity="0.95"/><path d="M138.00,179.00 C141.33,175.83 154.00,177.50 158.00,179.00 C162.00,180.50 161.83,185.00 162.00,188.00 C162.17,191.00 161.00,195.33 159.00,197.00 C157.00,198.67 153.50,197.83 150.00,198.00 C146.50,198.17 140.00,201.17 138.00,198.00 C136.00,194.83 134.67,182.17 138.00,179.00Z" fill="#000" filter="url(#b1)"/>
<path d="M204.00,208.00 C207.67,204.83 214.67,206.17 220.00,205.00 C225.33,203.83 230.33,202.33 236.00,201.00 C241.67,199.67 251.00,193.17 254.00,197.00 C257.00,200.83 263.33,219.50 254.00,224.00 C244.67,228.50 206.33,226.67 198.00,224.00 C189.67,221.33 200.33,211.17 204.00,208.00Z" fill="none" stroke="#6a22cc" stroke-width="6" filter="url(#b2)" opacity="0.95"/><path d="M204.00,208.00 C207.67,204.83 214.67,206.17 220.00,205.00 C225.33,203.83 230.33,202.33 236.00,201.00 C241.67,199.67 251.00,193.17 254.00,197.00 C257.00,200.83 263.33,219.50 254.00,224.00 C244.67,228.50 206.33,226.67 198.00,224.00 C189.67,221.33 200.33,211.17 204.00,208.00Z" fill="#000" filter="url(#b1)"/>
<path d="M172.00,216.00 C176.67,214.33 195.33,212.67 200.00,214.00 C204.67,215.33 204.67,222.33 200.00,224.00 C195.33,225.67 176.67,225.33 172.00,224.00 C167.33,222.67 167.33,217.67 172.00,216.00Z" fill="none" stroke="#6a22cc" stroke-width="4" filter="url(#b2)" opacity="0.8"/><path d="M172.00,216.00 C176.67,214.33 195.33,212.67 200.00,214.00 C204.67,215.33 204.67,222.33 200.00,224.00 C195.33,225.67 176.67,225.33 172.00,224.00 C167.33,222.67 167.33,217.67 172.00,216.00Z" fill="#000" filter="url(#b1)"/>
<ellipse cx="180.3" cy="146.5" rx="2.2" ry="2.8" fill="#48e040" filter="url(#b1)"/>
<ellipse cx="180.3" cy="146.5" rx="1.2" ry="1.6" fill="#f4f000" filter="url(#b05)"/>
<ellipse cx="195.3" cy="159" rx="5" ry="6.5" fill="#48e040" filter="url(#b1)"/>
<ellipse cx="195.3" cy="159.5" rx="3.6" ry="5" fill="#f4f000" filter="url(#b05)"/>
<ellipse cx="195.3" cy="160" rx="2.4" ry="3.4" fill="#ff9000" filter="url(#b05)"/>
<ellipse cx="195.3" cy="160.3" rx="1.5" ry="2.4" fill="#ff1800" filter="url(#b05)"/>
<ellipse cx="196" cy="172" rx="3.3" ry="2.8" fill="#48e040" filter="url(#b1)"/>
<ellipse cx="196" cy="172" rx="2.3" ry="1.9" fill="#f4f000" filter="url(#b05)"/>
<ellipse cx="143" cy="169.2" rx="2.5" ry="2.5" fill="#48e040" filter="url(#b1)"/>
<ellipse cx="161.5" cy="176.7" rx="2.5" ry="2" fill="#48e040" filter="url(#b1)"/>
<ellipse cx="169" cy="178.5" rx="2.8" ry="2.2" fill="#48e040" filter="url(#b1)"/>
<ellipse cx="169" cy="178.5" rx="1.5" ry="1.2" fill="#f4f000" filter="url(#b05)"/>
<ellipse cx="186.2" cy="171.3" rx="2.5" ry="2" fill="#48e040" filter="url(#b1)"/>
<ellipse cx="169" cy="182" rx="4" ry="3.5" fill="#48e040" filter="url(#b1)"/>
<ellipse cx="169" cy="181.5" rx="2.8" ry="2.5" fill="#f4f000" filter="url(#b05)"/>
<ellipse cx="169" cy="181" rx="1.5" ry="1.4" fill="#ff9000" filter="url(#b05)"/>
<ellipse cx="228.6" cy="151.2" rx="3" ry="2.2" fill="#48e040" filter="url(#b1)"/>
<ellipse cx="228.6" cy="151.2" rx="1.8" ry="1.2" fill="#f4f000" filter="url(#b05)"/>
<ellipse cx="218.6" cy="191.5" rx="2.4" ry="2" fill="#48e040" filter="url(#b1)"/>
<ellipse cx="199" cy="207.2" rx="3" ry="1.6" fill="#48e040" filter="url(#b1)"/>
<ellipse cx="178" cy="192" rx="2.5" ry="5" fill="#48e040" filter="url(#b15)" opacity="0.5"/>
</g>
<rect x="128.20" y="73.20" width="21.20" height="28.10" fill="#fff" />
<rect x="139.50" y="76.00" width="8.30" height="4.05" fill="#ffffff" />
<rect x="139.50" y="80.00" width="8.30" height="3.55" fill="#e80808" />
<rect x="139.50" y="83.50" width="8.30" height="3.85" fill="#f4e400" />
<rect x="139.50" y="87.30" width="8.30" height="3.85" fill="#30cc30" />
<rect x="139.50" y="91.10" width="8.30" height="3.35" fill="#a8d8ff" />
<rect x="139.50" y="94.40" width="8.30" height="3.45" fill="#8428e0" />
<rect x="139.50" y="97.80" width="8.30" height="3.25" fill="#280040" />
<rect x="139.5" y="76.0" width="8.300000000000011" height="25.0" fill="none" stroke="#999" stroke-width="0.4"/>
<text x="135.80" y="77.30" font-size="4.2" text-anchor="end" fill="#333" >300</text>
<text x="135.80" y="89.80" font-size="4.2" text-anchor="end" fill="#333" >150</text>
<text x="135.80" y="102.30" font-size="4.2" text-anchor="end" fill="#333" >0</text>
<line x1="136.00" y1="76.00" x2="139.50" y2="76.00" stroke="#666" stroke-width="0.4" />
<line x1="136.00" y1="88.40" x2="139.50" y2="88.40" stroke="#666" stroke-width="0.4" />
<line x1="136.00" y1="100.80" x2="139.50" y2="100.80" stroke="#666" stroke-width="0.4" />
<rect x="128.20" y="193.80" width="21.20" height="28.20" fill="#fff" />
<rect x="139.50" y="196.60" width="8.30" height="4.05" fill="#ffffff" />
<rect x="139.50" y="200.60" width="8.30" height="3.55" fill="#e80808" />
<rect x="139.50" y="204.10" width="8.30" height="3.85" fill="#f4e400" />
<rect x="139.50" y="207.90" width="8.30" height="3.85" fill="#30cc30" />
<rect x="139.50" y="211.70" width="8.30" height="3.35" fill="#a8d8ff" />
<rect x="139.50" y="215.00" width="8.30" height="3.45" fill="#8428e0" />
<rect x="139.50" y="218.40" width="8.30" height="3.25" fill="#280040" />
<rect x="139.5" y="196.60000000000002" width="8.300000000000011" height="25.0" fill="none" stroke="#999" stroke-width="0.4"/>
<text x="135.80" y="197.90" font-size="4.2" text-anchor="end" fill="#333" >300</text>
<text x="135.80" y="210.40" font-size="4.2" text-anchor="end" fill="#333" >150</text>
<text x="135.80" y="222.90" font-size="4.2" text-anchor="end" fill="#333" >0</text>
<line x1="136.00" y1="196.60" x2="139.50" y2="196.60" stroke="#666" stroke-width="0.4" />
<line x1="136.00" y1="209.00" x2="139.50" y2="209.00" stroke="#666" stroke-width="0.4" />
<line x1="136.00" y1="221.40" x2="139.50" y2="221.40" stroke="#666" stroke-width="0.4" />
<line x1="337.00" y1="12.50" x2="337.00" y2="135.60" stroke="#b4b4b4" stroke-width="0.8" />
<line x1="337.00" y1="135.60" x2="457.50" y2="135.60" stroke="#b4b4b4" stroke-width="0.8" />
<text x="327.90" y="113.45" font-size="6.4" text-anchor="end" fill="#000" >0</text>
<line x1="335.50" y1="111.25" x2="337.00" y2="111.25" stroke="#b4b4b4" stroke-width="0.6" />
<text x="327.90" y="64.70" font-size="6.4" text-anchor="end" fill="#000" >20</text>
<line x1="335.50" y1="62.50" x2="337.00" y2="62.50" stroke="#b4b4b4" stroke-width="0.6" />
<text x="327.90" y="15.95" font-size="6.4" text-anchor="end" fill="#000" >40</text>
<line x1="335.50" y1="13.75" x2="337.00" y2="13.75" stroke="#b4b4b4" stroke-width="0.6" />
<text x="341.60" y="149.20" font-size="6.4" text-anchor="middle" fill="#000" >0</text>
<line x1="341.60" y1="135.60" x2="341.60" y2="137.30" stroke="#b4b4b4" stroke-width="0.6" />
<text x="360.03" y="149.20" font-size="6.4" text-anchor="middle" fill="#000" >10</text>
<line x1="360.03" y1="135.60" x2="360.03" y2="137.30" stroke="#b4b4b4" stroke-width="0.6" />
<text x="378.46" y="149.20" font-size="6.4" text-anchor="middle" fill="#000" >20</text>
<line x1="378.46" y1="135.60" x2="378.46" y2="137.30" stroke="#b4b4b4" stroke-width="0.6" />
<text x="396.89" y="149.20" font-size="6.4" text-anchor="middle" fill="#000" >30</text>
<line x1="396.89" y1="135.60" x2="396.89" y2="137.30" stroke="#b4b4b4" stroke-width="0.6" />
<text x="415.32" y="149.20" font-size="6.4" text-anchor="middle" fill="#000" >40</text>
<line x1="415.32" y1="135.60" x2="415.32" y2="137.30" stroke="#b4b4b4" stroke-width="0.6" />
<text x="433.75" y="149.20" font-size="6.4" text-anchor="middle" fill="#000" >50</text>
<line x1="433.75" y1="135.60" x2="433.75" y2="137.30" stroke="#b4b4b4" stroke-width="0.6" />
<text x="452.18" y="149.20" font-size="6.4" text-anchor="middle" fill="#000" >60</text>
<line x1="452.18" y1="135.60" x2="452.18" y2="137.30" stroke="#b4b4b4" stroke-width="0.6" />
<text x="399.00" y="158.40" font-size="7.5" text-anchor="middle" fill="#000" >[min]</text>
<line x1="360.00" y1="15.00" x2="416.20" y2="15.00" stroke="#666" stroke-width="0.9" />
<text x="385.00" y="6.80" font-size="7.5" text-anchor="middle" fill="#000" >hypoxia</text>
<text x="273.00" y="66.05" font-size="6.5" font-weight="bold" fill="#000" >endothelial</text>
<text x="273.00" y="73.85" font-size="6.5" font-weight="bold" fill="#000" >DCF-</text>
<text x="273.00" y="81.65" font-size="6.5" font-weight="bold" fill="#000" >gray levels</text>
<text x="273.00" y="89.45" font-size="6.5" font-weight="bold" fill="#000" >(&#916; % above</text>
<text x="273.00" y="97.25" font-size="6.5" font-weight="bold" fill="#000" >&#160;baseline)</text>
<path d="M349.30,111.40 L351.00,112.90 L354.30,114.60 L357.20,117.80 L359.60,121.00 L362.00,119.40 L363.60,122.50 L365.20,124.10 L366.70,119.40 L369.90,116.20 L372.30,119.40 L374.70,116.20 L377.00,119.40 L379.40,117.80 L382.60,114.60 L385.80,116.20 L389.00,119.40 L392.10,121.00 L395.00,120.20 L399.30,118.00 L403.60,120.20 L407.90,115.90 L412.20,114.80 L416.50,115.90 L420.80,115.90 L422.90,109.40 L425.00,113.70 L428.30,115.90 L431.50,117.00 L433.20,124.40 L434.70,115.90 L436.80,111.60 L440.00,112.60 L444.40,113.70 L447.60,112.60" fill="none" stroke="#a2a2a2" stroke-width="2.1" stroke-linejoin="round"/>
<path d="M344.50,103.50 L346.00,108.00 L349.30,110.00 L351.00,107.00 L352.50,108.50 L354.00,105.00 L355.60,107.50 L358.80,105.00 L361.20,116.20 L362.80,119.40 L364.40,117.80 L366.00,122.50 L367.50,116.00 L369.00,111.40 L370.70,114.50 L373.00,109.80 L375.50,108.30 L377.00,113.00 L379.40,116.20 L381.00,110.00 L382.60,106.70 L384.20,110.00 L385.80,108.30 L388.20,114.60 L389.80,117.80 L391.30,122.50 L393.00,114.60 L394.50,113.00 L395.00,113.70 L397.00,115.50 L399.30,109.40 L401.40,111.50 L403.60,109.40 L405.70,113.70 L407.90,115.90 L410.00,98.70 L412.20,95.50 L414.30,96.50 L416.50,94.40 L418.60,96.50 L420.30,100.80 L421.80,94.40 L424.00,89.00 L426.10,96.50 L428.30,105.10 L430.40,111.60 L432.50,113.70 L434.70,100.80 L436.80,109.40 L439.00,100.80 L441.10,109.40 L443.30,115.90 L445.40,120.20 L447.60,107.30 L448.60,115.90" fill="none" stroke="#000" stroke-width="1.5" stroke-dasharray="3,1.6" stroke-linejoin="round"/>
<path d="M344.80,109.80 L345.30,100.30 L346.40,104.50 L346.90,102.00 L347.60,106.70 L348.50,104.50 L349.20,106.50 L350.00,103.50 L350.80,105.50 L351.70,102.50 L352.50,105.00 L353.30,101.90 L354.00,104.00 L354.80,101.00 L355.60,103.50 L356.40,99.30 L357.20,101.00 L358.00,97.70 L358.80,101.50 L359.60,100.90 L360.40,97.00 L361.20,95.30 L362.00,99.50 L362.80,101.90 L363.60,100.00 L364.40,103.50 L365.20,105.50 L366.00,108.30 L366.80,105.00 L367.50,101.50 L368.30,99.00 L369.10,96.10 L369.90,94.00 L370.70,89.80 L371.50,86.00 L372.20,89.00 L373.00,87.20 L373.80,84.00 L374.70,84.40 L375.40,81.00 L376.00,85.60 L376.60,82.00 L377.20,76.00 L377.70,75.00 L378.80,58.80 L379.90,63.50 L381.00,64.60 L382.10,63.50 L383.30,68.00 L384.40,70.40 L385.80,73.80 L386.90,64.60 L387.50,58.80 L389.20,57.70 L390.40,54.20 L391.50,61.20 L392.70,65.80 L393.30,51.90 L394.40,58.80 L395.60,53.10 L396.20,48.50 L397.30,62.30 L398.50,38.00 L399.60,45.00 L400.80,39.20 L401.90,45.00 L403.10,47.30 L404.80,58.80 L406.00,28.80 L407.10,36.90 L407.70,33.50 L408.80,23.10 L410.00,27.70 L411.20,32.30 L412.30,35.80 L413.50,47.30 L414.60,38.00 L415.80,30.00 L416.90,43.80 L417.50,55.40 L418.70,35.80 L419.80,38.00 L421.00,40.40 L422.10,45.00 L423.30,50.80 L424.40,58.00 L425.50,54.00 L426.80,62.20 L428.00,66.00 L428.90,68.60 L430.40,62.20 L431.20,68.00 L431.90,70.80 L432.80,74.00 L433.60,77.20 L434.60,80.00 L435.80,83.70 L436.80,87.00 L437.90,90.10 L438.70,94.00 L439.40,96.50 L440.10,100.00 L440.70,103.00 L441.50,106.00 L442.20,109.40 L443.00,113.00 L443.90,115.90 L444.60,118.00 L445.40,120.20 L446.00,115.00 L446.50,113.70 L447.00,117.00 L447.60,118.00" fill="none" stroke="#000" stroke-width="1.7" stroke-linejoin="round"/>
<text x="448.00" y="55.60" font-size="6.3" fill="#000" >RBC (+)</text>
<line x1="431.70" y1="58.20" x2="443.80" y2="55.20" stroke="#333" stroke-width="0.6" />
<text x="464.20" y="78.10" font-size="6.3" fill="#000" >RBC (+)</text>
<text x="464.40" y="86.30" font-size="6.3" fill="#000" >+ catalase</text>
<line x1="427.00" y1="93.70" x2="456.70" y2="82.00" stroke="#333" stroke-width="0.6" />
<text x="472.00" y="117.10" font-size="6.3" fill="#000" >RBC (-)</text>
<line x1="448.70" y1="112.50" x2="466.00" y2="115.70" stroke="#333" stroke-width="0.6" />
<line x1="335.80" y1="182.00" x2="335.80" y2="282.70" stroke="#8a8a8a" stroke-width="0.9" />
<text x="325.90" y="285.30" font-size="6.3" text-anchor="end" fill="#000" >0</text>
<line x1="333.80" y1="283.00" x2="335.80" y2="283.00" stroke="#8a8a8a" stroke-width="0.7" />
<text x="325.90" y="264.94" font-size="6.3" text-anchor="end" fill="#000" >20</text>
<line x1="333.80" y1="262.80" x2="335.80" y2="262.80" stroke="#8a8a8a" stroke-width="0.7" />
<text x="325.90" y="244.58" font-size="6.3" text-anchor="end" fill="#000" >40</text>
<line x1="333.80" y1="242.60" x2="335.80" y2="242.60" stroke="#8a8a8a" stroke-width="0.7" />
<text x="325.90" y="224.22" font-size="6.3" text-anchor="end" fill="#000" >60</text>
<line x1="333.80" y1="222.40" x2="335.80" y2="222.40" stroke="#8a8a8a" stroke-width="0.7" />
<text x="325.90" y="203.86" font-size="6.3" text-anchor="end" fill="#000" >80</text>
<line x1="333.80" y1="202.20" x2="335.80" y2="202.20" stroke="#8a8a8a" stroke-width="0.7" />
<text x="325.90" y="183.50" font-size="6.3" text-anchor="end" fill="#000" >100</text>
<line x1="333.80" y1="182.00" x2="335.80" y2="182.00" stroke="#8a8a8a" stroke-width="0.7" />
<line x1="342.00" y1="286.50" x2="518.00" y2="286.50" stroke="#8a8a8a" stroke-width="0.9" />
<text x="341.60" y="299.40" font-size="6.4" text-anchor="middle" fill="#000" >0</text>
<line x1="341.60" y1="286.50" x2="341.60" y2="288.30" stroke="#8a8a8a" stroke-width="0.7" />
<text x="376.50" y="299.40" font-size="6.4" text-anchor="middle" fill="#000" >10</text>
<line x1="376.50" y1="286.50" x2="376.50" y2="288.30" stroke="#8a8a8a" stroke-width="0.7" />
<text x="411.40" y="299.40" font-size="6.4" text-anchor="middle" fill="#000" >20</text>
<line x1="411.40" y1="286.50" x2="411.40" y2="288.30" stroke="#8a8a8a" stroke-width="0.7" />
<text x="446.30" y="299.40" font-size="6.4" text-anchor="middle" fill="#000" >30</text>
<line x1="446.30" y1="286.50" x2="446.30" y2="288.30" stroke="#8a8a8a" stroke-width="0.7" />
<text x="481.20" y="299.40" font-size="6.4" text-anchor="middle" fill="#000" >40</text>
<line x1="481.20" y1="286.50" x2="481.20" y2="288.30" stroke="#8a8a8a" stroke-width="0.7" />
<text x="516.10" y="299.40" font-size="6.4" text-anchor="middle" fill="#000" >50</text>
<line x1="516.10" y1="286.50" x2="516.10" y2="288.30" stroke="#8a8a8a" stroke-width="0.7" />
<text x="429.20" y="314.20" font-size="8" text-anchor="middle" fill="#000" >Hct (%)</text>
<text x="275.00" y="218.55" font-size="6.5" font-weight="bold" fill="#000" >endothelial</text>
<text x="275.00" y="226.35" font-size="6.5" font-weight="bold" fill="#000" >DCF-</text>
<text x="275.00" y="234.15" font-size="6.5" font-weight="bold" fill="#000" >gray levels</text>
<text x="275.00" y="241.95" font-size="6.5" font-weight="bold" fill="#000" >(&#916; % above</text>
<text x="275.00" y="249.75" font-size="6.5" font-weight="bold" fill="#000" >&#160;baseline)</text>
<path d="M342.12,280.87 L343.00,277.53 L343.87,274.44 L344.74,271.57 L345.61,268.90 L346.49,266.41 L347.36,264.08 L348.23,261.89 L349.10,259.84 L349.98,257.90 L350.85,256.08 L351.72,254.36 L352.59,252.73 L353.47,251.19 L354.34,249.73 L355.21,248.34 L356.08,247.01 L356.96,245.76 L357.83,244.55 L358.70,243.41 L359.57,242.31 L360.45,241.27 L361.32,240.26 L362.19,239.30 L363.06,238.38 L363.94,237.49 L364.81,236.64 L365.68,235.83 L366.55,235.04 L367.43,234.28 L368.30,233.55 L369.17,232.85 L370.04,232.17 L370.92,231.51 L371.79,230.88 L372.66,230.26 L373.53,229.67 L374.41,229.10 L375.28,228.54 L376.15,228.01 L377.02,227.48 L380.51,225.55 L384.00,223.83 L387.49,222.28 L390.98,220.89 L394.47,219.63 L397.96,218.49 L401.45,217.44 L404.94,216.48 L408.43,215.59 L411.92,214.77 L415.41,214.02 L418.90,213.31 L422.39,212.66 L425.88,212.04 L429.37,211.47 L432.86,210.93 L436.35,210.43 L439.84,209.95 L443.33,209.50 L446.82,209.08 L450.31,208.67 L453.80,208.29 L457.29,207.93 L460.78,207.59 L464.27,207.26 L467.76,206.95 L471.25,206.66 L474.74,206.37 L478.23,206.10 L481.72,205.84 L485.21,205.59 L488.70,205.36 L492.19,205.13 L495.68,204.91 L499.17,204.70 L502.66,204.50 L506.15,204.30 L509.64,204.11 L513.13,203.93" fill="none" stroke="#000" stroke-width="1.1"/>
<circle cx="342.30" cy="279.46" r="2.6" fill="#000"/>
<line x1="359.05" y1="247.65" x2="359.05" y2="253.80" stroke="#666" stroke-width="0.7" />
<line x1="357.55" y1="253.80" x2="360.55" y2="253.80" stroke="#666" stroke-width="0.7" />
<circle cx="359.05" cy="247.65" r="2.6" fill="#000"/>
<line x1="376.50" y1="217.50" x2="376.50" y2="239.50" stroke="#666" stroke-width="0.7" />
<line x1="374.70" y1="217.50" x2="378.30" y2="217.50" stroke="#666" stroke-width="0.7" />
<line x1="374.70" y1="239.50" x2="378.30" y2="239.50" stroke="#666" stroke-width="0.7" />
<circle cx="376.50" cy="228.46" r="2.6" fill="#000"/>
<line x1="411.40" y1="199.60" x2="411.40" y2="227.90" stroke="#666" stroke-width="0.7" />
<line x1="409.60" y1="199.60" x2="413.20" y2="199.60" stroke="#666" stroke-width="0.7" />
<line x1="409.60" y1="227.90" x2="413.20" y2="227.90" stroke="#666" stroke-width="0.7" />
<circle cx="411.40" cy="214.52" r="2.6" fill="#000"/>
<line x1="516.10" y1="190.70" x2="516.10" y2="219.80" stroke="#666" stroke-width="0.7" />
<line x1="514.30" y1="190.70" x2="517.90" y2="190.70" stroke="#666" stroke-width="0.7" />
<line x1="514.30" y1="219.80" x2="517.90" y2="219.80" stroke="#666" stroke-width="0.7" />
<circle cx="516.10" cy="205.23" r="2.6" fill="#000"/>
<polygon points="350.40,272.70 350.99,274.19 352.59,274.29 351.35,275.31 351.75,276.86 350.40,276.00 349.05,276.86 349.45,275.31 348.21,274.29 349.81,274.19" fill="#000"/>
<line x1="61.00" y1="263.00" x2="61.00" y2="418.50" stroke="#b8b8b8" stroke-width="1.3" />
<text x="55.60" y="403.55" font-size="6.6" text-anchor="end" fill="#000" >0</text>
<line x1="58.75" y1="401.25" x2="60.75" y2="401.25" stroke="#8a8a8a" stroke-width="0.7" />
<text x="55.60" y="369.15" font-size="6.6" text-anchor="end" fill="#000" >50</text>
<line x1="58.75" y1="366.85" x2="60.75" y2="366.85" stroke="#8a8a8a" stroke-width="0.7" />
<text x="55.60" y="334.75" font-size="6.6" text-anchor="end" fill="#000" >100</text>
<line x1="58.75" y1="332.45" x2="60.75" y2="332.45" stroke="#8a8a8a" stroke-width="0.7" />
<text x="55.60" y="300.35" font-size="6.6" text-anchor="end" fill="#000" >150</text>
<line x1="58.75" y1="298.05" x2="60.75" y2="298.05" stroke="#8a8a8a" stroke-width="0.7" />
<text x="55.60" y="265.95" font-size="6.6" text-anchor="end" fill="#000" >200</text>
<line x1="58.75" y1="263.65" x2="60.75" y2="263.65" stroke="#8a8a8a" stroke-width="0.7" />
<line x1="60.75" y1="401.30" x2="254.20" y2="401.30" stroke="#a8a8a8" stroke-width="1.0" />
<line x1="74.75" y1="388.18" x2="74.75" y2="383.36" stroke="#555" stroke-width="0.7" />
<line x1="73.55" y1="383.36" x2="75.95" y2="383.36" stroke="#555" stroke-width="0.7" />
<rect x="66.45" y="388.18" width="16.70" height="13.07" fill="#fff" stroke="#8a8a8a" stroke-width="0.8"/>
<line x1="102.40" y1="354.74" x2="102.40" y2="344.83" stroke="#555" stroke-width="0.7" />
<line x1="101.20" y1="344.83" x2="103.60" y2="344.83" stroke="#555" stroke-width="0.7" />
<rect x="94.00" y="354.74" width="16.80" height="46.51" fill="#000" />
<line x1="129.90" y1="357.22" x2="129.90" y2="355.15" stroke="#555" stroke-width="0.7" />
<line x1="128.70" y1="355.15" x2="131.10" y2="355.15" stroke="#555" stroke-width="0.7" />
<rect x="121.50" y="357.22" width="16.80" height="44.03" fill="#000" />
<line x1="157.60" y1="399.74" x2="157.60" y2="397.12" stroke="#555" stroke-width="0.7" />
<line x1="156.40" y1="397.12" x2="158.80" y2="397.12" stroke="#555" stroke-width="0.7" />
<rect x="149.20" y="399.74" width="16.80" height="1.51" fill="#000" />
<line x1="185.40" y1="290.14" x2="185.40" y2="268.47" stroke="#555" stroke-width="0.7" />
<line x1="184.20" y1="268.47" x2="186.60" y2="268.47" stroke="#555" stroke-width="0.7" />
<rect x="177.00" y="290.14" width="16.80" height="111.11" fill="#000" />
<line x1="212.80" y1="404.21" x2="212.80" y2="408.47" stroke="#555" stroke-width="0.7" />
<line x1="211.60" y1="408.47" x2="214.00" y2="408.47" stroke="#555" stroke-width="0.7" />
<rect x="204.40" y="401.25" width="16.80" height="2.96" fill="#000" />
<line x1="240.60" y1="398.50" x2="240.60" y2="397.12" stroke="#555" stroke-width="0.7" />
<line x1="239.40" y1="397.12" x2="241.80" y2="397.12" stroke="#555" stroke-width="0.7" />
<rect x="232.20" y="398.50" width="16.80" height="2.75" fill="#000" />
<circle cx="74.5" cy="374.25" r="1.2" fill="#000"/>
<circle cx="157" cy="387.7" r="1.2" fill="#000"/>
<circle cx="185" cy="260.8" r="1.2" fill="#000"/>
<circle cx="212.4" cy="391.4" r="1.2" fill="#000"/>
<circle cx="240.4" cy="387.1" r="1.2" fill="#000"/>
<rect x="73.4" y="263.3" width="13" height="4" fill="#fff" stroke="#666" stroke-width="0.7"/>
<rect x="73.00" y="274.50" width="13.80" height="4.30" fill="#000" />
<text x="92.50" y="267.50" font-size="6.2" font-weight="bold" fill="#000" >pO<tspan font-size="4" dy="1">2</tspan><tspan dy="-1">: 40 mmHg</tspan></text>
<text x="92.50" y="279.00" font-size="6.2" font-weight="bold" fill="#000" >pO<tspan font-size="4" dy="1">2</tspan><tspan dy="-1">: 22 mmHg</tspan></text>
<text x="2.20" y="319.70" font-size="6.1" font-weight="bold" fill="#000" >endothelial</text>
<text x="2.20" y="326.80" font-size="6.1" font-weight="bold" fill="#000" >DCF-</text>
<text x="2.20" y="333.90" font-size="6.1" font-weight="bold" fill="#000" >gray levels</text>
<text x="2.20" y="341.00" font-size="6.1" font-weight="bold" fill="#000" >(&#916; % above</text>
<text x="2.20" y="348.10" font-size="6.1" font-weight="bold" fill="#000" >&#160;baseline)</text>
<text x="74.75" y="425.00" font-size="7" text-anchor="middle" fill="#000" >RBC</text>
<text x="102.40" y="425.00" font-size="7" text-anchor="middle" fill="#000" >RBC</text>
<text x="129.90" y="425.00" font-size="7" text-anchor="middle" fill="#000" >RBC</text>
<text x="129.90" y="433.60" font-size="7" text-anchor="middle" fill="#000" >+</text>
<text x="129.90" y="442.20" font-size="7" text-anchor="middle" fill="#000" >L-NAME</text>
<text x="157.60" y="425.00" font-size="7" text-anchor="middle" fill="#000" >RBC</text>
<text x="157.60" y="433.60" font-size="7" text-anchor="middle" fill="#000" >+</text>
<text x="157.60" y="442.20" font-size="7" text-anchor="middle" fill="#000" >catalase</text>
<text x="185.40" y="425.00" font-size="7" text-anchor="middle" fill="#000" >RBC</text>
<text x="185.40" y="433.60" font-size="7" text-anchor="middle" fill="#000" >+</text>
<text x="185.40" y="442.20" font-size="7" text-anchor="middle" fill="#000" >azide</text>
<text x="212.80" y="425.00" font-size="7" text-anchor="middle" fill="#000" >RBC</text>
<text x="212.80" y="433.60" font-size="7" text-anchor="middle" fill="#000" >+</text>
<text x="212.80" y="442.20" font-size="7" text-anchor="middle" fill="#000" >nitrite</text>
<text x="240.60" y="425.00" font-size="7" text-anchor="middle" fill="#000" >RBC</text>
<text x="240.60" y="433.60" font-size="7" text-anchor="middle" fill="#000" >+</text>
<text x="240.60" y="442.20" font-size="7" text-anchor="middle" fill="#000" >CO</text>
<line x1="323.00" y1="335.00" x2="323.00" y2="485.00" stroke="#8a8a8a" stroke-width="0.9" />
<text x="318.30" y="487.60" font-size="7.3" text-anchor="end" fill="#000" >0</text>
<line x1="321.00" y1="485.00" x2="323.00" y2="485.00" stroke="#8a8a8a" stroke-width="0.7" />
<text x="318.30" y="462.60" font-size="7.3" text-anchor="end" fill="#000" >20</text>
<line x1="321.00" y1="460.00" x2="323.00" y2="460.00" stroke="#8a8a8a" stroke-width="0.7" />
<text x="318.30" y="437.60" font-size="7.3" text-anchor="end" fill="#000" >40</text>
<line x1="321.00" y1="435.00" x2="323.00" y2="435.00" stroke="#8a8a8a" stroke-width="0.7" />
<text x="318.30" y="412.60" font-size="7.3" text-anchor="end" fill="#000" >60</text>
<line x1="321.00" y1="410.00" x2="323.00" y2="410.00" stroke="#8a8a8a" stroke-width="0.7" />
<text x="318.30" y="387.60" font-size="7.3" text-anchor="end" fill="#000" >80</text>
<line x1="321.00" y1="385.00" x2="323.00" y2="385.00" stroke="#8a8a8a" stroke-width="0.7" />
<text x="318.30" y="362.60" font-size="7.3" text-anchor="end" fill="#000" >100</text>
<line x1="321.00" y1="360.00" x2="323.00" y2="360.00" stroke="#8a8a8a" stroke-width="0.7" />
<text x="318.30" y="337.60" font-size="7.3" text-anchor="end" fill="#000" >120</text>
<line x1="321.00" y1="335.00" x2="323.00" y2="335.00" stroke="#8a8a8a" stroke-width="0.7" />
<line x1="323.00" y1="485.00" x2="516.50" y2="485.00" stroke="#8a8a8a" stroke-width="0.9" />
<line x1="342.50" y1="427.50" x2="342.50" y2="425.00" stroke="#555" stroke-width="0.7" />
<line x1="341.20" y1="425.00" x2="343.80" y2="425.00" stroke="#555" stroke-width="0.7" />
<rect x="333.00" y="427.50" width="19.00" height="57.50" fill="#000" />
<line x1="381.50" y1="367.50" x2="381.50" y2="353.75" stroke="#555" stroke-width="0.7" />
<line x1="380.20" y1="353.75" x2="382.80" y2="353.75" stroke="#555" stroke-width="0.7" />
<rect x="372.00" y="367.50" width="19.00" height="117.50" fill="#000" />
<line x1="419.70" y1="356.25" x2="419.70" y2="342.88" stroke="#555" stroke-width="0.7" />
<line x1="418.40" y1="342.88" x2="421.00" y2="342.88" stroke="#555" stroke-width="0.7" />
<rect x="410.20" y="356.25" width="19.00" height="128.75" fill="#000" />
<line x1="458.40" y1="433.12" x2="458.40" y2="428.75" stroke="#555" stroke-width="0.7" />
<line x1="457.10" y1="428.75" x2="459.70" y2="428.75" stroke="#555" stroke-width="0.7" />
<rect x="448.90" y="433.12" width="19.00" height="51.88" fill="#000" />
<line x1="496.70" y1="458.75" x2="496.70" y2="453.25" stroke="#555" stroke-width="0.7" />
<line x1="495.40" y1="453.25" x2="498.00" y2="453.25" stroke="#555" stroke-width="0.7" />
<rect x="487.20" y="458.75" width="19.00" height="26.25" fill="#000" />
<circle cx="419.7" cy="329.5" r="1.2" fill="#000"/>
<text x="457.80" y="424.00" font-size="6.5" font-weight="bold" text-anchor="middle" fill="#000" >&#167;</text>
<text x="496.80" y="446.80" font-size="6.5" font-weight="bold" text-anchor="middle" fill="#000" >&#167;</text>
<text x="267.20" y="397.60" font-size="6.1" font-weight="bold" fill="#000" >endothelial</text>
<text x="267.20" y="404.90" font-size="6.1" font-weight="bold" fill="#000" >DCF-</text>
<text x="267.20" y="412.20" font-size="6.1" font-weight="bold" fill="#000" >gray levels</text>
<text x="267.20" y="419.50" font-size="6.1" font-weight="bold" fill="#000" >(&#916; % above</text>
<text x="267.20" y="426.80" font-size="6.1" font-weight="bold" fill="#000" >&#160;baseline)</text>
<text x="281.60" y="506.00" font-size="7.3" fill="#000" >RBC:</text>
<text x="342.50" y="506.00" font-size="7.3" text-anchor="middle" fill="#000" >WT</text>
<text x="381.50" y="506.00" font-size="7.3" text-anchor="middle" fill="#000" >BT</text>
<text x="419.70" y="506.00" font-size="7.3" text-anchor="middle" fill="#000" >BT</text>
<text x="458.40" y="506.00" font-size="7.3" text-anchor="middle" fill="#000" >WT</text>
<text x="496.70" y="506.00" font-size="7.3" text-anchor="middle" fill="#000" >BT</text>
<text x="281.60" y="521.00" font-size="7.3" fill="#000" >Lung:</text>
<text x="342.50" y="521.00" font-size="7.3" text-anchor="middle" fill="#000" >WT</text>
<text x="381.50" y="521.00" font-size="7.3" text-anchor="middle" fill="#000" >WT</text>
<text x="419.70" y="521.00" font-size="7.3" text-anchor="middle" fill="#000" >BT</text>
<text x="458.40" y="521.00" font-size="7.3" text-anchor="middle" fill="#000" >BT</text>
<text x="496.70" y="521.00" font-size="7.3" text-anchor="middle" fill="#000" >BT</text>
<text x="281.60" y="536.00" font-size="7.3" fill="#000" >Catalase:</text>
<text x="342.50" y="536.00" font-size="7.3" text-anchor="middle" fill="#000" >-</text>
<text x="381.50" y="536.00" font-size="7.3" text-anchor="middle" fill="#000" >-</text>
<text x="419.70" y="536.00" font-size="7.3" text-anchor="middle" fill="#000" >-</text>
<text x="458.40" y="536.00" font-size="7.3" text-anchor="middle" fill="#000" >-</text>
<text x="496.70" y="536.00" font-size="7.3" text-anchor="middle" fill="#000" >+</text></svg>
</body></html>
